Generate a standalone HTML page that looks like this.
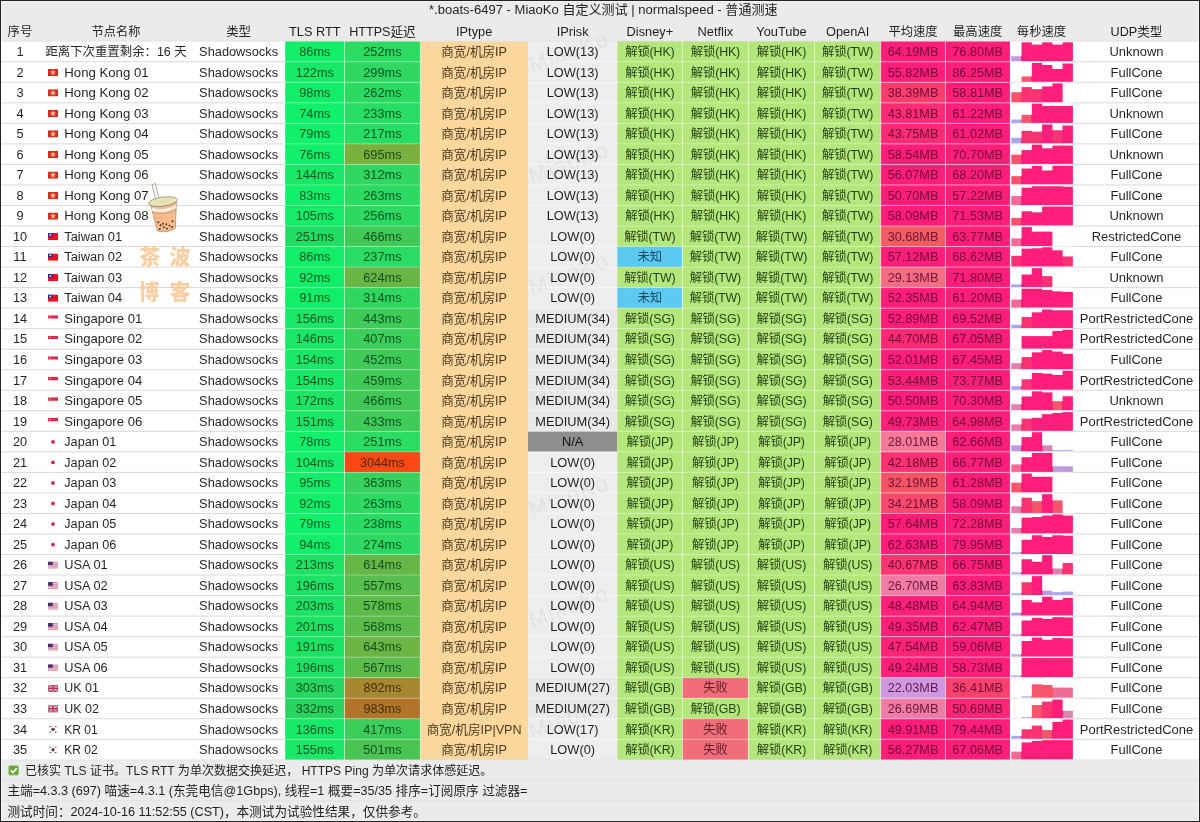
<!DOCTYPE html>
<html lang="zh-CN"><head><meta charset="utf-8"><title>MiaoKo</title>
<style>
html,body{margin:0;padding:0;background:#ebebeb}
body{width:1200px;height:822px;overflow:hidden;position:relative;font-family:"Liberation Sans","Noto Sans CJK SC",sans-serif;color:#1e1e1e;font-size:12.8px}
#t{position:absolute;left:0;top:0;width:1200px;height:822px;overflow:hidden;background:#ebebeb}
#bg{position:absolute;left:0;top:0;width:1200px;height:822px;display:block}
.r{position:absolute;left:0;width:1200px;height:20.53px;line-height:20.53px;white-space:nowrap}
.c{position:absolute;top:0;height:100%;text-align:center;overflow:visible;box-sizing:border-box}
.n{text-align:left}
.g{font-size:12.75px;color:#063c18}
.o{font-size:12.6px;color:#33230c}
.l,.b,.e{font-size:12.35px;letter-spacing:-.12px;color:#0b2604}
.b{color:#0a3448}
.e{color:#4a1218}
.p{font-size:12.65px;color:#5a062e}
.u{font-size:13px}
.f{position:absolute;left:8px;top:6.2px;width:10px;height:7.2px;display:block}
.ft{padding-left:7.4px;font-size:12.63px}
#x{position:absolute;left:0;top:0;width:1200px;height:822px;will-change:transform;filter:opacity(.87);color:#000}
.bd{position:absolute;pointer-events:none}

</style></head><body><div id="t">
<svg id="bg" width="1200" height="822" viewBox="0 0 1200 822"><rect width="1200" height="822" fill="#ebebeb"/><rect x="0" y="41.25" width="1200" height="718.55" fill="#fff"/><rect x="420.3" y="41.25" width="107.7" height="718.55" fill="#fad79d"/><rect x="285.2" y="41.25" width="59.3" height="20.53" fill="#13ee69"/><rect x="344.5" y="41.25" width="75.8" height="20.53" fill="#2bdb62"/><rect x="528" y="41.25" width="89.3" height="20.53" fill="#eeeeee"/><rect x="617.3" y="41.25" width="65.1" height="20.53" fill="#b5e67c"/><rect x="682.4" y="41.25" width="66" height="20.53" fill="#b5e67c"/><rect x="748.4" y="41.25" width="66.2" height="20.53" fill="#b5e67c"/><rect x="814.6" y="41.25" width="66.1" height="20.53" fill="#b5e67c"/><rect x="880.7" y="41.25" width="64.7" height="20.53" fill="#ff1f7a"/><rect x="945.4" y="41.25" width="64.5" height="20.53" fill="#ff1f7a"/><rect x="1011.3" y="56.3" width="10.27" height="5.13" fill="#bc9ae0"/><rect x="1021.57" y="42.34" width="10.27" height="19.09" fill="#ff1f7a"/><rect x="1031.83" y="44.6" width="10.27" height="16.83" fill="#ff1f7a"/><rect x="1042.1" y="42.34" width="10.27" height="19.09" fill="#ff1f7a"/><rect x="1052.37" y="44.6" width="10.27" height="16.83" fill="#ff1f7a"/><rect x="1062.63" y="42.34" width="10.27" height="19.09" fill="#ff1f7a"/><rect x="1020.97" y="56.3" width="1.2" height="5.13" fill="#ff1f7a"/><rect x="1031.23" y="44.6" width="1.2" height="16.83" fill="#ff1f7a"/><rect x="1041.5" y="44.6" width="1.2" height="16.83" fill="#ff1f7a"/><rect x="1051.77" y="44.6" width="1.2" height="16.83" fill="#ff1f7a"/><rect x="1062.03" y="44.6" width="1.2" height="16.83" fill="#ff1f7a"/><rect x="285.2" y="61.78" width="59.3" height="20.53" fill="#17ea68"/><rect x="344.5" y="61.78" width="75.8" height="20.53" fill="#30d761"/><rect x="528" y="61.78" width="89.3" height="20.53" fill="#eeeeee"/><rect x="617.3" y="61.78" width="65.1" height="20.53" fill="#b5e67c"/><rect x="682.4" y="61.78" width="66" height="20.53" fill="#b5e67c"/><rect x="748.4" y="61.78" width="66.2" height="20.53" fill="#b5e67c"/><rect x="814.6" y="61.78" width="66.1" height="20.53" fill="#b5e67c"/><rect x="880.7" y="61.78" width="64.7" height="20.53" fill="#ff1f7a"/><rect x="945.4" y="61.78" width="64.5" height="20.53" fill="#ff1f7a"/><rect x="1021.57" y="76.42" width="10.27" height="5.54" fill="#f6566b"/><rect x="1031.83" y="62.87" width="10.27" height="19.09" fill="#ff1f7a"/><rect x="1042.1" y="64.92" width="10.27" height="17.04" fill="#ff1f7a"/><rect x="1052.37" y="69.03" width="10.27" height="12.93" fill="#ff1f7a"/><rect x="1062.63" y="63.48" width="10.27" height="18.48" fill="#ff1f7a"/><rect x="1031.23" y="76.42" width="1.2" height="5.54" fill="#ff1f7a"/><rect x="1041.5" y="64.92" width="1.2" height="17.04" fill="#ff1f7a"/><rect x="1051.77" y="69.03" width="1.2" height="12.93" fill="#ff1f7a"/><rect x="1062.03" y="69.03" width="1.2" height="12.93" fill="#ff1f7a"/><svg x="48" y="68.78" width="10" height="7.2" viewBox="0 0 10 7.2"><rect width="10" height="7.2" rx=".6" fill="#d22e1a"/><ellipse cx="5" cy="2.2" rx=".8" ry="1.45" transform="rotate(0 5 3.6)" fill="#f3998a"/><ellipse cx="5" cy="2.2" rx=".8" ry="1.45" transform="rotate(72 5 3.6)" fill="#f3998a"/><ellipse cx="5" cy="2.2" rx=".8" ry="1.45" transform="rotate(144 5 3.6)" fill="#f3998a"/><ellipse cx="5" cy="2.2" rx=".8" ry="1.45" transform="rotate(216 5 3.6)" fill="#f3998a"/><ellipse cx="5" cy="2.2" rx=".8" ry="1.45" transform="rotate(288 5 3.6)" fill="#f3998a"/><circle cx="5" cy="3.6" r="1" fill="#fbd5cc"/></svg><rect x="285.2" y="82.31" width="59.3" height="20.53" fill="#14ed69"/><rect x="344.5" y="82.31" width="75.8" height="20.53" fill="#2cda62"/><rect x="528" y="82.31" width="89.3" height="20.53" fill="#eeeeee"/><rect x="617.3" y="82.31" width="65.1" height="20.53" fill="#b5e67c"/><rect x="682.4" y="82.31" width="66" height="20.53" fill="#b5e67c"/><rect x="748.4" y="82.31" width="66.2" height="20.53" fill="#b5e67c"/><rect x="814.6" y="82.31" width="66.1" height="20.53" fill="#b5e67c"/><rect x="880.7" y="82.31" width="64.7" height="20.53" fill="#f93e6e"/><rect x="945.4" y="82.31" width="64.5" height="20.53" fill="#ff1f7a"/><rect x="1011.3" y="92.23" width="10.27" height="10.27" fill="#f6566b"/><rect x="1021.57" y="87.09" width="10.27" height="15.4" fill="#fa3472"/><rect x="1031.83" y="89.15" width="10.27" height="13.34" fill="#fa3472"/><rect x="1042.1" y="86.48" width="10.27" height="16.01" fill="#ff1f7a"/><rect x="1052.37" y="83.4" width="10.27" height="19.09" fill="#ff1f7a"/><rect x="1020.97" y="92.23" width="1.2" height="10.27" fill="#fa3472"/><rect x="1031.23" y="89.15" width="1.2" height="13.34" fill="#fa3472"/><rect x="1041.5" y="89.15" width="1.2" height="13.34" fill="#ff1f7a"/><rect x="1051.77" y="86.48" width="1.2" height="16.01" fill="#ff1f7a"/><svg x="48" y="89.31" width="10" height="7.2" viewBox="0 0 10 7.2"><rect width="10" height="7.2" rx=".6" fill="#d22e1a"/><ellipse cx="5" cy="2.2" rx=".8" ry="1.45" transform="rotate(0 5 3.6)" fill="#f3998a"/><ellipse cx="5" cy="2.2" rx=".8" ry="1.45" transform="rotate(72 5 3.6)" fill="#f3998a"/><ellipse cx="5" cy="2.2" rx=".8" ry="1.45" transform="rotate(144 5 3.6)" fill="#f3998a"/><ellipse cx="5" cy="2.2" rx=".8" ry="1.45" transform="rotate(216 5 3.6)" fill="#f3998a"/><ellipse cx="5" cy="2.2" rx=".8" ry="1.45" transform="rotate(288 5 3.6)" fill="#f3998a"/><circle cx="5" cy="3.6" r="1" fill="#fbd5cc"/></svg><rect x="285.2" y="102.84" width="59.3" height="20.53" fill="#11f06a"/><rect x="344.5" y="102.84" width="75.8" height="20.53" fill="#29dc63"/><rect x="528" y="102.84" width="89.3" height="20.53" fill="#eeeeee"/><rect x="617.3" y="102.84" width="65.1" height="20.53" fill="#b5e67c"/><rect x="682.4" y="102.84" width="66" height="20.53" fill="#b5e67c"/><rect x="748.4" y="102.84" width="66.2" height="20.53" fill="#b5e67c"/><rect x="814.6" y="102.84" width="66.1" height="20.53" fill="#b5e67c"/><rect x="880.7" y="102.84" width="64.7" height="20.53" fill="#fc2d74"/><rect x="945.4" y="102.84" width="64.5" height="20.53" fill="#ff1f7a"/><rect x="1011.3" y="119.53" width="10.27" height="3.49" fill="#a9a6f0"/><rect x="1021.57" y="114.81" width="10.27" height="8.21" fill="#f6566b"/><rect x="1031.83" y="103.52" width="10.27" height="19.5" fill="#ff1f7a"/><rect x="1042.1" y="105.98" width="10.27" height="17.04" fill="#ff1f7a"/><rect x="1052.37" y="105.98" width="10.27" height="17.04" fill="#ff1f7a"/><rect x="1062.63" y="105.98" width="10.27" height="17.04" fill="#ff1f7a"/><rect x="1020.97" y="119.53" width="1.2" height="3.49" fill="#f6566b"/><rect x="1031.23" y="114.81" width="1.2" height="8.21" fill="#ff1f7a"/><rect x="1041.5" y="105.98" width="1.2" height="17.04" fill="#ff1f7a"/><rect x="1051.77" y="105.98" width="1.2" height="17.04" fill="#ff1f7a"/><rect x="1062.03" y="105.98" width="1.2" height="17.04" fill="#ff1f7a"/><svg x="48" y="109.84" width="10" height="7.2" viewBox="0 0 10 7.2"><rect width="10" height="7.2" rx=".6" fill="#d22e1a"/><ellipse cx="5" cy="2.2" rx=".8" ry="1.45" transform="rotate(0 5 3.6)" fill="#f3998a"/><ellipse cx="5" cy="2.2" rx=".8" ry="1.45" transform="rotate(72 5 3.6)" fill="#f3998a"/><ellipse cx="5" cy="2.2" rx=".8" ry="1.45" transform="rotate(144 5 3.6)" fill="#f3998a"/><ellipse cx="5" cy="2.2" rx=".8" ry="1.45" transform="rotate(216 5 3.6)" fill="#f3998a"/><ellipse cx="5" cy="2.2" rx=".8" ry="1.45" transform="rotate(288 5 3.6)" fill="#f3998a"/><circle cx="5" cy="3.6" r="1" fill="#fbd5cc"/></svg><rect x="285.2" y="123.37" width="59.3" height="20.53" fill="#12ef6a"/><rect x="344.5" y="123.37" width="75.8" height="20.53" fill="#28dd63"/><rect x="528" y="123.37" width="89.3" height="20.53" fill="#eeeeee"/><rect x="617.3" y="123.37" width="65.1" height="20.53" fill="#b5e67c"/><rect x="682.4" y="123.37" width="66" height="20.53" fill="#b5e67c"/><rect x="748.4" y="123.37" width="66.2" height="20.53" fill="#b5e67c"/><rect x="814.6" y="123.37" width="66.1" height="20.53" fill="#b5e67c"/><rect x="880.7" y="123.37" width="64.7" height="20.53" fill="#fc2d74"/><rect x="945.4" y="123.37" width="64.5" height="20.53" fill="#ff1f7a"/><rect x="1011.3" y="137.8" width="10.27" height="5.75" fill="#a9a6f0"/><rect x="1021.57" y="130.82" width="10.27" height="12.73" fill="#fa3472"/><rect x="1031.83" y="131.64" width="10.27" height="11.91" fill="#fa3472"/><rect x="1042.1" y="124.46" width="10.27" height="19.09" fill="#ff1f7a"/><rect x="1052.37" y="130.21" width="10.27" height="13.34" fill="#fa3472"/><rect x="1062.63" y="125.48" width="10.27" height="18.07" fill="#ff1f7a"/><rect x="1020.97" y="137.8" width="1.2" height="5.75" fill="#fa3472"/><rect x="1031.23" y="131.64" width="1.2" height="11.91" fill="#fa3472"/><rect x="1041.5" y="131.64" width="1.2" height="11.91" fill="#ff1f7a"/><rect x="1051.77" y="130.21" width="1.2" height="13.34" fill="#ff1f7a"/><rect x="1062.03" y="130.21" width="1.2" height="13.34" fill="#ff1f7a"/><svg x="48" y="130.37" width="10" height="7.2" viewBox="0 0 10 7.2"><rect width="10" height="7.2" rx=".6" fill="#d22e1a"/><ellipse cx="5" cy="2.2" rx=".8" ry="1.45" transform="rotate(0 5 3.6)" fill="#f3998a"/><ellipse cx="5" cy="2.2" rx=".8" ry="1.45" transform="rotate(72 5 3.6)" fill="#f3998a"/><ellipse cx="5" cy="2.2" rx=".8" ry="1.45" transform="rotate(144 5 3.6)" fill="#f3998a"/><ellipse cx="5" cy="2.2" rx=".8" ry="1.45" transform="rotate(216 5 3.6)" fill="#f3998a"/><ellipse cx="5" cy="2.2" rx=".8" ry="1.45" transform="rotate(288 5 3.6)" fill="#f3998a"/><circle cx="5" cy="3.6" r="1" fill="#fbd5cc"/></svg><rect x="285.2" y="143.9" width="59.3" height="20.53" fill="#12ef6a"/><rect x="344.5" y="143.9" width="75.8" height="20.53" fill="#7bb03e"/><rect x="528" y="143.9" width="89.3" height="20.53" fill="#eeeeee"/><rect x="617.3" y="143.9" width="65.1" height="20.53" fill="#b5e67c"/><rect x="682.4" y="143.9" width="66" height="20.53" fill="#b5e67c"/><rect x="748.4" y="143.9" width="66.2" height="20.53" fill="#b5e67c"/><rect x="814.6" y="143.9" width="66.1" height="20.53" fill="#b5e67c"/><rect x="880.7" y="143.9" width="64.7" height="20.53" fill="#ff1f7a"/><rect x="945.4" y="143.9" width="64.5" height="20.53" fill="#ff1f7a"/><rect x="1011.3" y="154.64" width="10.27" height="9.44" fill="#f6566b"/><rect x="1021.57" y="150.12" width="10.27" height="13.96" fill="#ff1f7a"/><rect x="1031.83" y="144.58" width="10.27" height="19.5" fill="#ff1f7a"/><rect x="1042.1" y="148.27" width="10.27" height="15.81" fill="#ff1f7a"/><rect x="1052.37" y="145.6" width="10.27" height="18.48" fill="#ff1f7a"/><rect x="1062.63" y="145.6" width="10.27" height="18.48" fill="#ff1f7a"/><rect x="1020.97" y="154.64" width="1.2" height="9.44" fill="#ff1f7a"/><rect x="1031.23" y="150.12" width="1.2" height="13.96" fill="#ff1f7a"/><rect x="1041.5" y="148.27" width="1.2" height="15.81" fill="#ff1f7a"/><rect x="1051.77" y="148.27" width="1.2" height="15.81" fill="#ff1f7a"/><rect x="1062.03" y="145.6" width="1.2" height="18.48" fill="#ff1f7a"/><svg x="48" y="150.9" width="10" height="7.2" viewBox="0 0 10 7.2"><rect width="10" height="7.2" rx=".6" fill="#d22e1a"/><ellipse cx="5" cy="2.2" rx=".8" ry="1.45" transform="rotate(0 5 3.6)" fill="#f3998a"/><ellipse cx="5" cy="2.2" rx=".8" ry="1.45" transform="rotate(72 5 3.6)" fill="#f3998a"/><ellipse cx="5" cy="2.2" rx=".8" ry="1.45" transform="rotate(144 5 3.6)" fill="#f3998a"/><ellipse cx="5" cy="2.2" rx=".8" ry="1.45" transform="rotate(216 5 3.6)" fill="#f3998a"/><ellipse cx="5" cy="2.2" rx=".8" ry="1.45" transform="rotate(288 5 3.6)" fill="#f3998a"/><circle cx="5" cy="3.6" r="1" fill="#fbd5cc"/></svg><rect x="285.2" y="164.43" width="59.3" height="20.53" fill="#19e867"/><rect x="344.5" y="164.43" width="75.8" height="20.53" fill="#31d760"/><rect x="528" y="164.43" width="89.3" height="20.53" fill="#eeeeee"/><rect x="617.3" y="164.43" width="65.1" height="20.53" fill="#b5e67c"/><rect x="682.4" y="164.43" width="66" height="20.53" fill="#b5e67c"/><rect x="748.4" y="164.43" width="66.2" height="20.53" fill="#b5e67c"/><rect x="814.6" y="164.43" width="66.1" height="20.53" fill="#b5e67c"/><rect x="880.7" y="164.43" width="64.7" height="20.53" fill="#ff1f7a"/><rect x="945.4" y="164.43" width="64.5" height="20.53" fill="#ff1f7a"/><rect x="1011.3" y="176.19" width="10.27" height="8.42" fill="#f6566b"/><rect x="1021.57" y="168.6" width="10.27" height="16.01" fill="#ff1f7a"/><rect x="1031.83" y="165.93" width="10.27" height="18.68" fill="#ff1f7a"/><rect x="1042.1" y="170.44" width="10.27" height="14.17" fill="#ff1f7a"/><rect x="1052.37" y="165.72" width="10.27" height="18.89" fill="#ff1f7a"/><rect x="1062.63" y="165.72" width="10.27" height="18.89" fill="#ff1f7a"/><rect x="1020.97" y="176.19" width="1.2" height="8.42" fill="#ff1f7a"/><rect x="1031.23" y="168.6" width="1.2" height="16.01" fill="#ff1f7a"/><rect x="1041.5" y="170.44" width="1.2" height="14.17" fill="#ff1f7a"/><rect x="1051.77" y="170.44" width="1.2" height="14.17" fill="#ff1f7a"/><rect x="1062.03" y="165.72" width="1.2" height="18.89" fill="#ff1f7a"/><svg x="48" y="171.43" width="10" height="7.2" viewBox="0 0 10 7.2"><rect width="10" height="7.2" rx=".6" fill="#d22e1a"/><ellipse cx="5" cy="2.2" rx=".8" ry="1.45" transform="rotate(0 5 3.6)" fill="#f3998a"/><ellipse cx="5" cy="2.2" rx=".8" ry="1.45" transform="rotate(72 5 3.6)" fill="#f3998a"/><ellipse cx="5" cy="2.2" rx=".8" ry="1.45" transform="rotate(144 5 3.6)" fill="#f3998a"/><ellipse cx="5" cy="2.2" rx=".8" ry="1.45" transform="rotate(216 5 3.6)" fill="#f3998a"/><ellipse cx="5" cy="2.2" rx=".8" ry="1.45" transform="rotate(288 5 3.6)" fill="#f3998a"/><circle cx="5" cy="3.6" r="1" fill="#fbd5cc"/></svg><rect x="285.2" y="184.96" width="59.3" height="20.53" fill="#12ef6a"/><rect x="344.5" y="184.96" width="75.8" height="20.53" fill="#2cda62"/><rect x="528" y="184.96" width="89.3" height="20.53" fill="#eeeeee"/><rect x="617.3" y="184.96" width="65.1" height="20.53" fill="#b5e67c"/><rect x="682.4" y="184.96" width="66" height="20.53" fill="#b5e67c"/><rect x="748.4" y="184.96" width="66.2" height="20.53" fill="#b5e67c"/><rect x="814.6" y="184.96" width="66.1" height="20.53" fill="#b5e67c"/><rect x="880.7" y="184.96" width="64.7" height="20.53" fill="#ff1f7a"/><rect x="945.4" y="184.96" width="64.5" height="20.53" fill="#ff1f7a"/><rect x="1011.3" y="196.11" width="10.27" height="9.03" fill="#ec6e94"/><rect x="1021.57" y="187.69" width="10.27" height="17.45" fill="#ff1f7a"/><rect x="1031.83" y="186.25" width="10.27" height="18.89" fill="#ff1f7a"/><rect x="1042.1" y="186.25" width="10.27" height="18.89" fill="#ff1f7a"/><rect x="1052.37" y="186.25" width="10.27" height="18.89" fill="#ff1f7a"/><rect x="1062.63" y="186.66" width="10.27" height="18.48" fill="#ff1f7a"/><rect x="1020.97" y="196.11" width="1.2" height="9.03" fill="#ff1f7a"/><rect x="1031.23" y="187.69" width="1.2" height="17.45" fill="#ff1f7a"/><rect x="1041.5" y="186.25" width="1.2" height="18.89" fill="#ff1f7a"/><rect x="1051.77" y="186.25" width="1.2" height="18.89" fill="#ff1f7a"/><rect x="1062.03" y="186.66" width="1.2" height="18.48" fill="#ff1f7a"/><svg x="48" y="191.96" width="10" height="7.2" viewBox="0 0 10 7.2"><rect width="10" height="7.2" rx=".6" fill="#d22e1a"/><ellipse cx="5" cy="2.2" rx=".8" ry="1.45" transform="rotate(0 5 3.6)" fill="#f3998a"/><ellipse cx="5" cy="2.2" rx=".8" ry="1.45" transform="rotate(72 5 3.6)" fill="#f3998a"/><ellipse cx="5" cy="2.2" rx=".8" ry="1.45" transform="rotate(144 5 3.6)" fill="#f3998a"/><ellipse cx="5" cy="2.2" rx=".8" ry="1.45" transform="rotate(216 5 3.6)" fill="#f3998a"/><ellipse cx="5" cy="2.2" rx=".8" ry="1.45" transform="rotate(288 5 3.6)" fill="#f3998a"/><circle cx="5" cy="3.6" r="1" fill="#fbd5cc"/></svg><rect x="285.2" y="205.49" width="59.3" height="20.53" fill="#15ec69"/><rect x="344.5" y="205.49" width="75.8" height="20.53" fill="#2cda62"/><rect x="528" y="205.49" width="89.3" height="20.53" fill="#eeeeee"/><rect x="617.3" y="205.49" width="65.1" height="20.53" fill="#b5e67c"/><rect x="682.4" y="205.49" width="66" height="20.53" fill="#b5e67c"/><rect x="748.4" y="205.49" width="66.2" height="20.53" fill="#b5e67c"/><rect x="814.6" y="205.49" width="66.1" height="20.53" fill="#b5e67c"/><rect x="880.7" y="205.49" width="64.7" height="20.53" fill="#ff1f7a"/><rect x="945.4" y="205.49" width="64.5" height="20.53" fill="#ff1f7a"/><rect x="1011.3" y="217.87" width="10.27" height="7.8" fill="#f6566b"/><rect x="1021.57" y="211.3" width="10.27" height="14.37" fill="#ff1f7a"/><rect x="1031.83" y="212.33" width="10.27" height="13.34" fill="#ff1f7a"/><rect x="1042.1" y="206.58" width="10.27" height="19.09" fill="#ff1f7a"/><rect x="1052.37" y="206.58" width="10.27" height="19.09" fill="#ff1f7a"/><rect x="1062.63" y="206.58" width="10.27" height="19.09" fill="#ff1f7a"/><rect x="1020.97" y="217.87" width="1.2" height="7.8" fill="#ff1f7a"/><rect x="1031.23" y="212.33" width="1.2" height="13.34" fill="#ff1f7a"/><rect x="1041.5" y="212.33" width="1.2" height="13.34" fill="#ff1f7a"/><rect x="1051.77" y="206.58" width="1.2" height="19.09" fill="#ff1f7a"/><rect x="1062.03" y="206.58" width="1.2" height="19.09" fill="#ff1f7a"/><svg x="48" y="212.49" width="10" height="7.2" viewBox="0 0 10 7.2"><rect width="10" height="7.2" rx=".6" fill="#d22e1a"/><ellipse cx="5" cy="2.2" rx=".8" ry="1.45" transform="rotate(0 5 3.6)" fill="#f3998a"/><ellipse cx="5" cy="2.2" rx=".8" ry="1.45" transform="rotate(72 5 3.6)" fill="#f3998a"/><ellipse cx="5" cy="2.2" rx=".8" ry="1.45" transform="rotate(144 5 3.6)" fill="#f3998a"/><ellipse cx="5" cy="2.2" rx=".8" ry="1.45" transform="rotate(216 5 3.6)" fill="#f3998a"/><ellipse cx="5" cy="2.2" rx=".8" ry="1.45" transform="rotate(288 5 3.6)" fill="#f3998a"/><circle cx="5" cy="3.6" r="1" fill="#fbd5cc"/></svg><rect x="285.2" y="226.02" width="59.3" height="20.53" fill="#22dd63"/><rect x="344.5" y="226.02" width="75.8" height="20.53" fill="#42c856"/><rect x="528" y="226.02" width="89.3" height="20.53" fill="#eeeeee"/><rect x="617.3" y="226.02" width="65.1" height="20.53" fill="#b5e67c"/><rect x="682.4" y="226.02" width="66" height="20.53" fill="#b5e67c"/><rect x="748.4" y="226.02" width="66.2" height="20.53" fill="#b5e67c"/><rect x="814.6" y="226.02" width="66.1" height="20.53" fill="#b5e67c"/><rect x="880.7" y="226.02" width="64.7" height="20.53" fill="#f35c62"/><rect x="945.4" y="226.02" width="64.5" height="20.53" fill="#ff1f7a"/><rect x="1011.3" y="238.4" width="10.27" height="7.8" fill="#ec6e94"/><rect x="1021.57" y="227.11" width="10.27" height="19.09" fill="#ff1f7a"/><rect x="1031.83" y="231.62" width="10.27" height="14.58" fill="#ff1f7a"/><rect x="1042.1" y="231.62" width="10.27" height="14.58" fill="#ff1f7a"/><rect x="1020.97" y="238.4" width="1.2" height="7.8" fill="#ff1f7a"/><rect x="1031.23" y="231.62" width="1.2" height="14.58" fill="#ff1f7a"/><rect x="1041.5" y="231.62" width="1.2" height="14.58" fill="#ff1f7a"/><svg x="48" y="233.02" width="10" height="7.2" viewBox="0 0 10 7.2"><rect width="10" height="7.2" rx=".6" fill="#ee1020"/><rect width="4.6" height="3.6" rx=".4" fill="#23238c"/><circle cx="2.3" cy="1.8" r="1" fill="#e8e8ff"/></svg><rect x="285.2" y="246.55" width="59.3" height="20.53" fill="#13ee69"/><rect x="344.5" y="246.55" width="75.8" height="20.53" fill="#2adc63"/><rect x="528" y="246.55" width="89.3" height="20.53" fill="#eeeeee"/><rect x="617.3" y="246.55" width="65.1" height="20.53" fill="#5cc9f0"/><rect x="682.4" y="246.55" width="66" height="20.53" fill="#b5e67c"/><rect x="748.4" y="246.55" width="66.2" height="20.53" fill="#b5e67c"/><rect x="814.6" y="246.55" width="66.1" height="20.53" fill="#b5e67c"/><rect x="880.7" y="246.55" width="64.7" height="20.53" fill="#ff1f7a"/><rect x="945.4" y="246.55" width="64.5" height="20.53" fill="#ff1f7a"/><rect x="1011.3" y="255.85" width="10.27" height="10.88" fill="#fa3472"/><rect x="1021.57" y="248.66" width="10.27" height="18.07" fill="#ff1f7a"/><rect x="1031.83" y="248.25" width="10.27" height="18.48" fill="#ff1f7a"/><rect x="1042.1" y="247.23" width="10.27" height="19.5" fill="#ff1f7a"/><rect x="1052.37" y="250.31" width="10.27" height="16.42" fill="#ff1f7a"/><rect x="1062.63" y="256.46" width="10.27" height="10.27" fill="#fa3472"/><rect x="1020.97" y="255.85" width="1.2" height="10.88" fill="#ff1f7a"/><rect x="1031.23" y="248.66" width="1.2" height="18.07" fill="#ff1f7a"/><rect x="1041.5" y="248.25" width="1.2" height="18.48" fill="#ff1f7a"/><rect x="1051.77" y="250.31" width="1.2" height="16.42" fill="#ff1f7a"/><rect x="1062.03" y="256.46" width="1.2" height="10.27" fill="#ff1f7a"/><svg x="48" y="253.55" width="10" height="7.2" viewBox="0 0 10 7.2"><rect width="10" height="7.2" rx=".6" fill="#ee1020"/><rect width="4.6" height="3.6" rx=".4" fill="#23238c"/><circle cx="2.3" cy="1.8" r="1" fill="#e8e8ff"/></svg><rect x="285.2" y="267.08" width="59.3" height="20.53" fill="#13ee69"/><rect x="344.5" y="267.08" width="75.8" height="20.53" fill="#69b646"/><rect x="528" y="267.08" width="89.3" height="20.53" fill="#eeeeee"/><rect x="617.3" y="267.08" width="65.1" height="20.53" fill="#b5e67c"/><rect x="682.4" y="267.08" width="66" height="20.53" fill="#b5e67c"/><rect x="748.4" y="267.08" width="66.2" height="20.53" fill="#b5e67c"/><rect x="814.6" y="267.08" width="66.1" height="20.53" fill="#b5e67c"/><rect x="880.7" y="267.08" width="64.7" height="20.53" fill="#f46d81"/><rect x="945.4" y="267.08" width="64.5" height="20.53" fill="#ff1f7a"/><rect x="1011.3" y="284.39" width="10.27" height="2.87" fill="#a9a6f0"/><rect x="1021.57" y="274.53" width="10.27" height="12.73" fill="#ff1f7a"/><rect x="1031.83" y="268.17" width="10.27" height="19.09" fill="#ff1f7a"/><rect x="1042.1" y="276.17" width="10.27" height="11.09" fill="#fa3472"/><rect x="1020.97" y="284.39" width="1.2" height="2.87" fill="#ff1f7a"/><rect x="1031.23" y="274.53" width="1.2" height="12.73" fill="#ff1f7a"/><rect x="1041.5" y="276.17" width="1.2" height="11.09" fill="#ff1f7a"/><svg x="48" y="274.08" width="10" height="7.2" viewBox="0 0 10 7.2"><rect width="10" height="7.2" rx=".6" fill="#ee1020"/><rect width="4.6" height="3.6" rx=".4" fill="#23238c"/><circle cx="2.3" cy="1.8" r="1" fill="#e8e8ff"/></svg><rect x="285.2" y="287.61" width="59.3" height="20.53" fill="#13ee69"/><rect x="344.5" y="287.61" width="75.8" height="20.53" fill="#31d660"/><rect x="528" y="287.61" width="89.3" height="20.53" fill="#eeeeee"/><rect x="617.3" y="287.61" width="65.1" height="20.53" fill="#5cc9f0"/><rect x="682.4" y="287.61" width="66" height="20.53" fill="#b5e67c"/><rect x="748.4" y="287.61" width="66.2" height="20.53" fill="#b5e67c"/><rect x="814.6" y="287.61" width="66.1" height="20.53" fill="#b5e67c"/><rect x="880.7" y="287.61" width="64.7" height="20.53" fill="#ff1f7a"/><rect x="945.4" y="287.61" width="64.5" height="20.53" fill="#ff1f7a"/><rect x="1011.3" y="299.58" width="10.27" height="8.21" fill="#ec6e94"/><rect x="1021.57" y="288.7" width="10.27" height="19.09" fill="#ff1f7a"/><rect x="1031.83" y="288.7" width="10.27" height="19.09" fill="#ff1f7a"/><rect x="1042.1" y="289.93" width="10.27" height="17.86" fill="#ff1f7a"/><rect x="1052.37" y="291.37" width="10.27" height="16.42" fill="#ff1f7a"/><rect x="1062.63" y="291.98" width="10.27" height="15.81" fill="#ff1f7a"/><rect x="1020.97" y="299.58" width="1.2" height="8.21" fill="#ff1f7a"/><rect x="1031.23" y="288.7" width="1.2" height="19.09" fill="#ff1f7a"/><rect x="1041.5" y="289.93" width="1.2" height="17.86" fill="#ff1f7a"/><rect x="1051.77" y="291.37" width="1.2" height="16.42" fill="#ff1f7a"/><rect x="1062.03" y="291.98" width="1.2" height="15.81" fill="#ff1f7a"/><svg x="48" y="294.61" width="10" height="7.2" viewBox="0 0 10 7.2"><rect width="10" height="7.2" rx=".6" fill="#ee1020"/><rect width="4.6" height="3.6" rx=".4" fill="#23238c"/><circle cx="2.3" cy="1.8" r="1" fill="#e8e8ff"/></svg><rect x="285.2" y="308.14" width="59.3" height="20.53" fill="#1ae667"/><rect x="344.5" y="308.14" width="75.8" height="20.53" fill="#3fcb58"/><rect x="528" y="308.14" width="89.3" height="20.53" fill="#e9e9e9"/><rect x="617.3" y="308.14" width="65.1" height="20.53" fill="#b5e67c"/><rect x="682.4" y="308.14" width="66" height="20.53" fill="#b5e67c"/><rect x="748.4" y="308.14" width="66.2" height="20.53" fill="#b5e67c"/><rect x="814.6" y="308.14" width="66.1" height="20.53" fill="#b5e67c"/><rect x="880.7" y="308.14" width="64.7" height="20.53" fill="#ff1f7a"/><rect x="945.4" y="308.14" width="64.5" height="20.53" fill="#ff1f7a"/><rect x="1011.3" y="324.83" width="10.27" height="3.49" fill="#a9a6f0"/><rect x="1021.57" y="317.03" width="10.27" height="11.29" fill="#fa3472"/><rect x="1031.83" y="312.31" width="10.27" height="16.01" fill="#ff1f7a"/><rect x="1042.1" y="309.43" width="10.27" height="18.89" fill="#ff1f7a"/><rect x="1052.37" y="310.25" width="10.27" height="18.07" fill="#ff1f7a"/><rect x="1062.63" y="310.25" width="10.27" height="18.07" fill="#ff1f7a"/><rect x="1020.97" y="324.83" width="1.2" height="3.49" fill="#fa3472"/><rect x="1031.23" y="317.03" width="1.2" height="11.29" fill="#ff1f7a"/><rect x="1041.5" y="312.31" width="1.2" height="16.01" fill="#ff1f7a"/><rect x="1051.77" y="310.25" width="1.2" height="18.07" fill="#ff1f7a"/><rect x="1062.03" y="310.25" width="1.2" height="18.07" fill="#ff1f7a"/><svg x="48" y="315.14" width="10" height="7.2" viewBox="0 0 10 7.2"><rect width="10" height="7.2" rx=".6" fill="#fff" stroke="#eee" stroke-width=".4"/><path d="M0 .6A.6 .6 0 0 1 .6 0H9.4A.6 .6 0 0 1 10 .6V3.4H0Z" fill="#dc2848"/><circle cx="2" cy="1.7" r=".7" fill="#f7c0cc"/></svg><rect x="285.2" y="328.67" width="59.3" height="20.53" fill="#1ae767"/><rect x="344.5" y="328.67" width="75.8" height="20.53" fill="#3bce5a"/><rect x="528" y="328.67" width="89.3" height="20.53" fill="#e9e9e9"/><rect x="617.3" y="328.67" width="65.1" height="20.53" fill="#b5e67c"/><rect x="682.4" y="328.67" width="66" height="20.53" fill="#b5e67c"/><rect x="748.4" y="328.67" width="66.2" height="20.53" fill="#b5e67c"/><rect x="814.6" y="328.67" width="66.1" height="20.53" fill="#b5e67c"/><rect x="880.7" y="328.67" width="64.7" height="20.53" fill="#fc2a75"/><rect x="945.4" y="328.67" width="64.5" height="20.53" fill="#ff1f7a"/><rect x="1021.57" y="336.12" width="10.27" height="12.73" fill="#ff1f7a"/><rect x="1031.83" y="336.12" width="10.27" height="12.73" fill="#ff1f7a"/><rect x="1042.1" y="336.12" width="10.27" height="12.73" fill="#ff1f7a"/><rect x="1052.37" y="330.99" width="10.27" height="17.86" fill="#ff1f7a"/><rect x="1062.63" y="329.76" width="10.27" height="19.09" fill="#ff1f7a"/><rect x="1031.23" y="336.12" width="1.2" height="12.73" fill="#ff1f7a"/><rect x="1041.5" y="336.12" width="1.2" height="12.73" fill="#ff1f7a"/><rect x="1051.77" y="336.12" width="1.2" height="12.73" fill="#ff1f7a"/><rect x="1062.03" y="330.99" width="1.2" height="17.86" fill="#ff1f7a"/><svg x="48" y="335.67" width="10" height="7.2" viewBox="0 0 10 7.2"><rect width="10" height="7.2" rx=".6" fill="#fff" stroke="#eee" stroke-width=".4"/><path d="M0 .6A.6 .6 0 0 1 .6 0H9.4A.6 .6 0 0 1 10 .6V3.4H0Z" fill="#dc2848"/><circle cx="2" cy="1.7" r=".7" fill="#f7c0cc"/></svg><rect x="285.2" y="349.2" width="59.3" height="20.53" fill="#1ae767"/><rect x="344.5" y="349.2" width="75.8" height="20.53" fill="#40ca57"/><rect x="528" y="349.2" width="89.3" height="20.53" fill="#e9e9e9"/><rect x="617.3" y="349.2" width="65.1" height="20.53" fill="#b5e67c"/><rect x="682.4" y="349.2" width="66" height="20.53" fill="#b5e67c"/><rect x="748.4" y="349.2" width="66.2" height="20.53" fill="#b5e67c"/><rect x="814.6" y="349.2" width="66.1" height="20.53" fill="#b5e67c"/><rect x="880.7" y="349.2" width="64.7" height="20.53" fill="#ff1f7a"/><rect x="945.4" y="349.2" width="64.5" height="20.53" fill="#ff1f7a"/><rect x="1011.3" y="363.22" width="10.27" height="6.16" fill="#dc84b0"/><rect x="1021.57" y="357.06" width="10.27" height="12.32" fill="#fa3472"/><rect x="1031.83" y="352.34" width="10.27" height="17.04" fill="#ff1f7a"/><rect x="1042.1" y="350.08" width="10.27" height="19.3" fill="#ff1f7a"/><rect x="1052.37" y="351.52" width="10.27" height="17.86" fill="#ff1f7a"/><rect x="1062.63" y="353.78" width="10.27" height="15.6" fill="#ff1f7a"/><rect x="1020.97" y="363.22" width="1.2" height="6.16" fill="#fa3472"/><rect x="1031.23" y="357.06" width="1.2" height="12.32" fill="#ff1f7a"/><rect x="1041.5" y="352.34" width="1.2" height="17.04" fill="#ff1f7a"/><rect x="1051.77" y="351.52" width="1.2" height="17.86" fill="#ff1f7a"/><rect x="1062.03" y="353.78" width="1.2" height="15.6" fill="#ff1f7a"/><svg x="48" y="356.2" width="10" height="7.2" viewBox="0 0 10 7.2"><rect width="10" height="7.2" rx=".6" fill="#fff" stroke="#eee" stroke-width=".4"/><path d="M0 .6A.6 .6 0 0 1 .6 0H9.4A.6 .6 0 0 1 10 .6V3.4H0Z" fill="#dc2848"/><circle cx="2" cy="1.7" r=".7" fill="#f7c0cc"/></svg><rect x="285.2" y="369.73" width="59.3" height="20.53" fill="#1ae767"/><rect x="344.5" y="369.73" width="75.8" height="20.53" fill="#41c957"/><rect x="528" y="369.73" width="89.3" height="20.53" fill="#e9e9e9"/><rect x="617.3" y="369.73" width="65.1" height="20.53" fill="#b5e67c"/><rect x="682.4" y="369.73" width="66" height="20.53" fill="#b5e67c"/><rect x="748.4" y="369.73" width="66.2" height="20.53" fill="#b5e67c"/><rect x="814.6" y="369.73" width="66.1" height="20.53" fill="#b5e67c"/><rect x="880.7" y="369.73" width="64.7" height="20.53" fill="#ff1f7a"/><rect x="945.4" y="369.73" width="64.5" height="20.53" fill="#ff1f7a"/><rect x="1011.3" y="386.21" width="10.27" height="3.7" fill="#a9a6f0"/><rect x="1021.57" y="379.23" width="10.27" height="10.68" fill="#fa3472"/><rect x="1031.83" y="372.87" width="10.27" height="17.04" fill="#ff1f7a"/><rect x="1042.1" y="373.69" width="10.27" height="16.22" fill="#ff1f7a"/><rect x="1052.37" y="374.92" width="10.27" height="14.99" fill="#ff1f7a"/><rect x="1062.63" y="370.61" width="10.27" height="19.3" fill="#ff1f7a"/><rect x="1020.97" y="386.21" width="1.2" height="3.7" fill="#fa3472"/><rect x="1031.23" y="379.23" width="1.2" height="10.68" fill="#ff1f7a"/><rect x="1041.5" y="373.69" width="1.2" height="16.22" fill="#ff1f7a"/><rect x="1051.77" y="374.92" width="1.2" height="14.99" fill="#ff1f7a"/><rect x="1062.03" y="374.92" width="1.2" height="14.99" fill="#ff1f7a"/><svg x="48" y="376.73" width="10" height="7.2" viewBox="0 0 10 7.2"><rect width="10" height="7.2" rx=".6" fill="#fff" stroke="#eee" stroke-width=".4"/><path d="M0 .6A.6 .6 0 0 1 .6 0H9.4A.6 .6 0 0 1 10 .6V3.4H0Z" fill="#dc2848"/><circle cx="2" cy="1.7" r=".7" fill="#f7c0cc"/></svg><rect x="285.2" y="390.26" width="59.3" height="20.53" fill="#1ce566"/><rect x="344.5" y="390.26" width="75.8" height="20.53" fill="#42c856"/><rect x="528" y="390.26" width="89.3" height="20.53" fill="#e9e9e9"/><rect x="617.3" y="390.26" width="65.1" height="20.53" fill="#b5e67c"/><rect x="682.4" y="390.26" width="66" height="20.53" fill="#b5e67c"/><rect x="748.4" y="390.26" width="66.2" height="20.53" fill="#b5e67c"/><rect x="814.6" y="390.26" width="66.1" height="20.53" fill="#b5e67c"/><rect x="880.7" y="390.26" width="64.7" height="20.53" fill="#ff1f7a"/><rect x="945.4" y="390.26" width="64.5" height="20.53" fill="#ff1f7a"/><rect x="1011.3" y="404.28" width="10.27" height="6.16" fill="#dc84b0"/><rect x="1021.57" y="396.48" width="10.27" height="13.96" fill="#ff1f7a"/><rect x="1031.83" y="391.35" width="10.27" height="19.09" fill="#ff1f7a"/><rect x="1042.1" y="392.37" width="10.27" height="18.07" fill="#ff1f7a"/><rect x="1052.37" y="401.2" width="10.27" height="9.24" fill="#f6566b"/><rect x="1062.63" y="396.27" width="10.27" height="14.17" fill="#ff1f7a"/><rect x="1020.97" y="404.28" width="1.2" height="6.16" fill="#ff1f7a"/><rect x="1031.23" y="396.48" width="1.2" height="13.96" fill="#ff1f7a"/><rect x="1041.5" y="392.37" width="1.2" height="18.07" fill="#ff1f7a"/><rect x="1051.77" y="401.2" width="1.2" height="9.24" fill="#ff1f7a"/><rect x="1062.03" y="401.2" width="1.2" height="9.24" fill="#ff1f7a"/><svg x="48" y="397.26" width="10" height="7.2" viewBox="0 0 10 7.2"><rect width="10" height="7.2" rx=".6" fill="#fff" stroke="#eee" stroke-width=".4"/><path d="M0 .6A.6 .6 0 0 1 .6 0H9.4A.6 .6 0 0 1 10 .6V3.4H0Z" fill="#dc2848"/><circle cx="2" cy="1.7" r=".7" fill="#f7c0cc"/></svg><rect x="285.2" y="410.79" width="59.3" height="20.53" fill="#1ae767"/><rect x="344.5" y="410.79" width="75.8" height="20.53" fill="#3ecb58"/><rect x="528" y="410.79" width="89.3" height="20.53" fill="#e9e9e9"/><rect x="617.3" y="410.79" width="65.1" height="20.53" fill="#b5e67c"/><rect x="682.4" y="410.79" width="66" height="20.53" fill="#b5e67c"/><rect x="748.4" y="410.79" width="66.2" height="20.53" fill="#b5e67c"/><rect x="814.6" y="410.79" width="66.1" height="20.53" fill="#b5e67c"/><rect x="880.7" y="410.79" width="64.7" height="20.53" fill="#ff207a"/><rect x="945.4" y="410.79" width="64.5" height="20.53" fill="#ff1f7a"/><rect x="1011.3" y="424.4" width="10.27" height="6.57" fill="#dc84b0"/><rect x="1021.57" y="418.65" width="10.27" height="12.32" fill="#fa3472"/><rect x="1031.83" y="417.83" width="10.27" height="13.14" fill="#ff1f7a"/><rect x="1042.1" y="414.14" width="10.27" height="16.83" fill="#ff1f7a"/><rect x="1052.37" y="412.9" width="10.27" height="18.07" fill="#ff1f7a"/><rect x="1062.63" y="412.08" width="10.27" height="18.89" fill="#ff1f7a"/><rect x="1020.97" y="424.4" width="1.2" height="6.57" fill="#fa3472"/><rect x="1031.23" y="418.65" width="1.2" height="12.32" fill="#ff1f7a"/><rect x="1041.5" y="417.83" width="1.2" height="13.14" fill="#ff1f7a"/><rect x="1051.77" y="414.14" width="1.2" height="16.83" fill="#ff1f7a"/><rect x="1062.03" y="412.9" width="1.2" height="18.07" fill="#ff1f7a"/><svg x="48" y="417.79" width="10" height="7.2" viewBox="0 0 10 7.2"><rect width="10" height="7.2" rx=".6" fill="#fff" stroke="#eee" stroke-width=".4"/><path d="M0 .6A.6 .6 0 0 1 .6 0H9.4A.6 .6 0 0 1 10 .6V3.4H0Z" fill="#dc2848"/><circle cx="2" cy="1.7" r=".7" fill="#f7c0cc"/></svg><rect x="285.2" y="431.32" width="59.3" height="20.53" fill="#12ef6a"/><rect x="344.5" y="431.32" width="75.8" height="20.53" fill="#2bdb62"/><rect x="528" y="431.32" width="89.3" height="20.53" fill="#8e8e8e"/><rect x="617.3" y="431.32" width="65.1" height="20.53" fill="#b5e67c"/><rect x="682.4" y="431.32" width="66" height="20.53" fill="#b5e67c"/><rect x="748.4" y="431.32" width="66.2" height="20.53" fill="#b5e67c"/><rect x="814.6" y="431.32" width="66.1" height="20.53" fill="#b5e67c"/><rect x="880.7" y="431.32" width="64.7" height="20.53" fill="#f47a98"/><rect x="945.4" y="431.32" width="64.5" height="20.53" fill="#ff1f7a"/><rect x="1011.3" y="445.34" width="10.27" height="6.16" fill="#bc9ae0"/><rect x="1021.57" y="437.13" width="10.27" height="14.37" fill="#ff1f7a"/><rect x="1031.83" y="432.2" width="10.27" height="19.3" fill="#ff1f7a"/><rect x="1042.1" y="445.34" width="10.27" height="6.16" fill="#dc84b0"/><rect x="1052.37" y="449.86" width="10.27" height="1.64" fill="#b2bdea"/><rect x="1062.63" y="449.86" width="10.27" height="1.64" fill="#b2bdea"/><rect x="1020.97" y="445.34" width="1.2" height="6.16" fill="#ff1f7a"/><rect x="1031.23" y="437.13" width="1.2" height="14.37" fill="#ff1f7a"/><rect x="1041.5" y="445.34" width="1.2" height="6.16" fill="#ff1f7a"/><rect x="1051.77" y="449.86" width="1.2" height="1.64" fill="#dc84b0"/><rect x="1062.03" y="449.86" width="1.2" height="1.64" fill="#b2bdea"/><svg x="48" y="438.32" width="10" height="7.2" viewBox="0 0 10 7.2"><rect width="10" height="7.2" rx=".6" fill="#fff" stroke="#f0f0f0" stroke-width=".4"/><circle cx="5" cy="3.6" r="1.9" fill="#c8285a"/></svg><rect x="285.2" y="451.85" width="59.3" height="20.53" fill="#15ec69"/><rect x="344.5" y="451.85" width="75.8" height="20.53" fill="#fc4814"/><rect x="528" y="451.85" width="89.3" height="20.53" fill="#eeeeee"/><rect x="617.3" y="451.85" width="65.1" height="20.53" fill="#b5e67c"/><rect x="682.4" y="451.85" width="66" height="20.53" fill="#b5e67c"/><rect x="748.4" y="451.85" width="66.2" height="20.53" fill="#b5e67c"/><rect x="814.6" y="451.85" width="66.1" height="20.53" fill="#b5e67c"/><rect x="880.7" y="451.85" width="64.7" height="20.53" fill="#fb3272"/><rect x="945.4" y="451.85" width="64.5" height="20.53" fill="#ff1f7a"/><rect x="1011.3" y="464.43" width="10.27" height="7.6" fill="#ec6e94"/><rect x="1021.57" y="457.25" width="10.27" height="14.78" fill="#ff1f7a"/><rect x="1031.83" y="452.94" width="10.27" height="19.09" fill="#ff1f7a"/><rect x="1042.1" y="452.94" width="10.27" height="19.09" fill="#ff1f7a"/><rect x="1052.37" y="466.28" width="10.27" height="5.75" fill="#bc9ae0"/><rect x="1062.63" y="466.28" width="10.27" height="5.75" fill="#bc9ae0"/><rect x="1020.97" y="464.43" width="1.2" height="7.6" fill="#ff1f7a"/><rect x="1031.23" y="457.25" width="1.2" height="14.78" fill="#ff1f7a"/><rect x="1041.5" y="452.94" width="1.2" height="19.09" fill="#ff1f7a"/><rect x="1051.77" y="466.28" width="1.2" height="5.75" fill="#ff1f7a"/><rect x="1062.03" y="466.28" width="1.2" height="5.75" fill="#bc9ae0"/><svg x="48" y="458.85" width="10" height="7.2" viewBox="0 0 10 7.2"><rect width="10" height="7.2" rx=".6" fill="#fff" stroke="#f0f0f0" stroke-width=".4"/><circle cx="5" cy="3.6" r="1.9" fill="#c8285a"/></svg><rect x="285.2" y="472.38" width="59.3" height="20.53" fill="#14ed69"/><rect x="344.5" y="472.38" width="75.8" height="20.53" fill="#37d25d"/><rect x="528" y="472.38" width="89.3" height="20.53" fill="#eeeeee"/><rect x="617.3" y="472.38" width="65.1" height="20.53" fill="#b5e67c"/><rect x="682.4" y="472.38" width="66" height="20.53" fill="#b5e67c"/><rect x="748.4" y="472.38" width="66.2" height="20.53" fill="#b5e67c"/><rect x="814.6" y="472.38" width="66.1" height="20.53" fill="#b5e67c"/><rect x="880.7" y="472.38" width="64.7" height="20.53" fill="#f55466"/><rect x="945.4" y="472.38" width="64.5" height="20.53" fill="#ff1f7a"/><rect x="1011.3" y="482.71" width="10.27" height="9.85" fill="#f6566b"/><rect x="1021.57" y="473.47" width="10.27" height="19.09" fill="#ff1f7a"/><rect x="1031.83" y="476.75" width="10.27" height="15.81" fill="#ff1f7a"/><rect x="1042.1" y="476.75" width="10.27" height="15.81" fill="#ff1f7a"/><rect x="1020.97" y="482.71" width="1.2" height="9.85" fill="#ff1f7a"/><rect x="1031.23" y="476.75" width="1.2" height="15.81" fill="#ff1f7a"/><rect x="1041.5" y="476.75" width="1.2" height="15.81" fill="#ff1f7a"/><svg x="48" y="479.38" width="10" height="7.2" viewBox="0 0 10 7.2"><rect width="10" height="7.2" rx=".6" fill="#fff" stroke="#f0f0f0" stroke-width=".4"/><circle cx="5" cy="3.6" r="1.9" fill="#c8285a"/></svg><rect x="285.2" y="492.91" width="59.3" height="20.53" fill="#13ee69"/><rect x="344.5" y="492.91" width="75.8" height="20.53" fill="#2cda62"/><rect x="528" y="492.91" width="89.3" height="20.53" fill="#eeeeee"/><rect x="617.3" y="492.91" width="65.1" height="20.53" fill="#b5e67c"/><rect x="682.4" y="492.91" width="66" height="20.53" fill="#b5e67c"/><rect x="748.4" y="492.91" width="66.2" height="20.53" fill="#b5e67c"/><rect x="814.6" y="492.91" width="66.1" height="20.53" fill="#b5e67c"/><rect x="880.7" y="492.91" width="64.7" height="20.53" fill="#f74a6c"/><rect x="945.4" y="492.91" width="64.5" height="20.53" fill="#ff1f7a"/><rect x="1011.3" y="506.32" width="10.27" height="6.77" fill="#dc84b0"/><rect x="1021.57" y="497.69" width="10.27" height="15.4" fill="#fa3472"/><rect x="1031.83" y="501.18" width="10.27" height="11.91" fill="#f6566b"/><rect x="1042.1" y="494.2" width="10.27" height="18.89" fill="#ff1f7a"/><rect x="1052.37" y="500.36" width="10.27" height="12.73" fill="#f6566b"/><rect x="1020.97" y="506.32" width="1.2" height="6.77" fill="#fa3472"/><rect x="1031.23" y="501.18" width="1.2" height="11.91" fill="#fa3472"/><rect x="1041.5" y="501.18" width="1.2" height="11.91" fill="#ff1f7a"/><rect x="1051.77" y="500.36" width="1.2" height="12.73" fill="#ff1f7a"/><svg x="48" y="499.91" width="10" height="7.2" viewBox="0 0 10 7.2"><rect width="10" height="7.2" rx=".6" fill="#fff" stroke="#f0f0f0" stroke-width=".4"/><circle cx="5" cy="3.6" r="1.9" fill="#c8285a"/></svg><rect x="285.2" y="513.44" width="59.3" height="20.53" fill="#12ef6a"/><rect x="344.5" y="513.44" width="75.8" height="20.53" fill="#2adb63"/><rect x="528" y="513.44" width="89.3" height="20.53" fill="#eeeeee"/><rect x="617.3" y="513.44" width="65.1" height="20.53" fill="#b5e67c"/><rect x="682.4" y="513.44" width="66" height="20.53" fill="#b5e67c"/><rect x="748.4" y="513.44" width="66.2" height="20.53" fill="#b5e67c"/><rect x="814.6" y="513.44" width="66.1" height="20.53" fill="#b5e67c"/><rect x="880.7" y="513.44" width="64.7" height="20.53" fill="#ff1f7a"/><rect x="945.4" y="513.44" width="64.5" height="20.53" fill="#ff1f7a"/><rect x="1011.3" y="528.08" width="10.27" height="5.54" fill="#dc84b0"/><rect x="1021.57" y="517.61" width="10.27" height="16.01" fill="#ff1f7a"/><rect x="1031.83" y="516.99" width="10.27" height="16.63" fill="#ff1f7a"/><rect x="1042.1" y="515.55" width="10.27" height="18.07" fill="#ff1f7a"/><rect x="1052.37" y="514.32" width="10.27" height="19.3" fill="#ff1f7a"/><rect x="1062.63" y="515.55" width="10.27" height="18.07" fill="#ff1f7a"/><rect x="1020.97" y="528.08" width="1.2" height="5.54" fill="#ff1f7a"/><rect x="1031.23" y="517.61" width="1.2" height="16.01" fill="#ff1f7a"/><rect x="1041.5" y="516.99" width="1.2" height="16.63" fill="#ff1f7a"/><rect x="1051.77" y="515.55" width="1.2" height="18.07" fill="#ff1f7a"/><rect x="1062.03" y="515.55" width="1.2" height="18.07" fill="#ff1f7a"/><svg x="48" y="520.44" width="10" height="7.2" viewBox="0 0 10 7.2"><rect width="10" height="7.2" rx=".6" fill="#fff" stroke="#f0f0f0" stroke-width=".4"/><circle cx="5" cy="3.6" r="1.9" fill="#c8285a"/></svg><rect x="285.2" y="533.97" width="59.3" height="20.53" fill="#14ed69"/><rect x="344.5" y="533.97" width="75.8" height="20.53" fill="#2dd962"/><rect x="528" y="533.97" width="89.3" height="20.53" fill="#eeeeee"/><rect x="617.3" y="533.97" width="65.1" height="20.53" fill="#b5e67c"/><rect x="682.4" y="533.97" width="66" height="20.53" fill="#b5e67c"/><rect x="748.4" y="533.97" width="66.2" height="20.53" fill="#b5e67c"/><rect x="814.6" y="533.97" width="66.1" height="20.53" fill="#b5e67c"/><rect x="880.7" y="533.97" width="64.7" height="20.53" fill="#ff1f7a"/><rect x="945.4" y="533.97" width="64.5" height="20.53" fill="#ff1f7a"/><rect x="1011.3" y="552.1" width="10.27" height="2.05" fill="#b2bdea"/><rect x="1021.57" y="539.78" width="10.27" height="14.37" fill="#ff1f7a"/><rect x="1031.83" y="535.26" width="10.27" height="18.89" fill="#ff1f7a"/><rect x="1042.1" y="536.9" width="10.27" height="17.25" fill="#ff1f7a"/><rect x="1052.37" y="535.26" width="10.27" height="18.89" fill="#ff1f7a"/><rect x="1062.63" y="535.67" width="10.27" height="18.48" fill="#ff1f7a"/><rect x="1020.97" y="552.1" width="1.2" height="2.05" fill="#ff1f7a"/><rect x="1031.23" y="539.78" width="1.2" height="14.37" fill="#ff1f7a"/><rect x="1041.5" y="536.9" width="1.2" height="17.25" fill="#ff1f7a"/><rect x="1051.77" y="536.9" width="1.2" height="17.25" fill="#ff1f7a"/><rect x="1062.03" y="535.67" width="1.2" height="18.48" fill="#ff1f7a"/><svg x="48" y="540.97" width="10" height="7.2" viewBox="0 0 10 7.2"><rect width="10" height="7.2" rx=".6" fill="#fff" stroke="#f0f0f0" stroke-width=".4"/><circle cx="5" cy="3.6" r="1.9" fill="#c8285a"/></svg><rect x="285.2" y="554.5" width="59.3" height="20.53" fill="#1fe164"/><rect x="344.5" y="554.5" width="75.8" height="20.53" fill="#66b747"/><rect x="528" y="554.5" width="89.3" height="20.53" fill="#eeeeee"/><rect x="617.3" y="554.5" width="65.1" height="20.53" fill="#b5e67c"/><rect x="682.4" y="554.5" width="66" height="20.53" fill="#b5e67c"/><rect x="748.4" y="554.5" width="66.2" height="20.53" fill="#b5e67c"/><rect x="814.6" y="554.5" width="66.1" height="20.53" fill="#b5e67c"/><rect x="880.7" y="554.5" width="64.7" height="20.53" fill="#fa3770"/><rect x="945.4" y="554.5" width="64.5" height="20.53" fill="#ff1f7a"/><rect x="1011.3" y="572.22" width="10.27" height="2.46" fill="#b2bdea"/><rect x="1021.57" y="559.28" width="10.27" height="15.4" fill="#ff1f7a"/><rect x="1031.83" y="561.75" width="10.27" height="12.93" fill="#ff1f7a"/><rect x="1042.1" y="555.18" width="10.27" height="19.5" fill="#ff1f7a"/><rect x="1052.37" y="568.52" width="10.27" height="6.16" fill="#dc84b0"/><rect x="1062.63" y="562.98" width="10.27" height="11.7" fill="#fa3472"/><rect x="1020.97" y="572.22" width="1.2" height="2.46" fill="#ff1f7a"/><rect x="1031.23" y="561.75" width="1.2" height="12.93" fill="#ff1f7a"/><rect x="1041.5" y="561.75" width="1.2" height="12.93" fill="#ff1f7a"/><rect x="1051.77" y="568.52" width="1.2" height="6.16" fill="#ff1f7a"/><rect x="1062.03" y="568.52" width="1.2" height="6.16" fill="#fa3472"/><svg x="48" y="561.5" width="10" height="7.2" viewBox="0 0 10 7.2"><rect width="10" height="7.2" rx=".6" fill="#dc93aa"/><rect y="1.1" width="10" height=".9" fill="#eec0cc"/><rect y="3.2" width="10" height=".9" fill="#eec0cc"/><rect y="5.2" width="10" height=".9" fill="#eec0cc"/><rect width="4.8" height="3.6" rx=".4" fill="#46306e"/></svg><rect x="285.2" y="575.03" width="59.3" height="20.53" fill="#1ee265"/><rect x="344.5" y="575.03" width="75.8" height="20.53" fill="#58be4d"/><rect x="528" y="575.03" width="89.3" height="20.53" fill="#eeeeee"/><rect x="617.3" y="575.03" width="65.1" height="20.53" fill="#b5e67c"/><rect x="682.4" y="575.03" width="66" height="20.53" fill="#b5e67c"/><rect x="748.4" y="575.03" width="66.2" height="20.53" fill="#b5e67c"/><rect x="814.6" y="575.03" width="66.1" height="20.53" fill="#b5e67c"/><rect x="880.7" y="575.03" width="64.7" height="20.53" fill="#ee7ca4"/><rect x="945.4" y="575.03" width="64.5" height="20.53" fill="#ff1f7a"/><rect x="1011.3" y="593.16" width="10.27" height="2.05" fill="#b2bdea"/><rect x="1021.57" y="582.28" width="10.27" height="12.93" fill="#fa3472"/><rect x="1031.83" y="576.12" width="10.27" height="19.09" fill="#ff1f7a"/><rect x="1042.1" y="590.69" width="10.27" height="4.52" fill="#bc9ae0"/><rect x="1052.37" y="592.13" width="10.27" height="3.08" fill="#a9a6f0"/><rect x="1062.63" y="591.51" width="10.27" height="3.7" fill="#a9a6f0"/><rect x="1020.97" y="593.16" width="1.2" height="2.05" fill="#fa3472"/><rect x="1031.23" y="582.28" width="1.2" height="12.93" fill="#ff1f7a"/><rect x="1041.5" y="590.69" width="1.2" height="4.52" fill="#ff1f7a"/><rect x="1051.77" y="592.13" width="1.2" height="3.08" fill="#bc9ae0"/><rect x="1062.03" y="592.13" width="1.2" height="3.08" fill="#a9a6f0"/><svg x="48" y="582.03" width="10" height="7.2" viewBox="0 0 10 7.2"><rect width="10" height="7.2" rx=".6" fill="#dc93aa"/><rect y="1.1" width="10" height=".9" fill="#eec0cc"/><rect y="3.2" width="10" height=".9" fill="#eec0cc"/><rect y="5.2" width="10" height=".9" fill="#eec0cc"/><rect width="4.8" height="3.6" rx=".4" fill="#46306e"/></svg><rect x="285.2" y="595.56" width="59.3" height="20.53" fill="#1ee265"/><rect x="344.5" y="595.56" width="75.8" height="20.53" fill="#5dbb4a"/><rect x="528" y="595.56" width="89.3" height="20.53" fill="#eeeeee"/><rect x="617.3" y="595.56" width="65.1" height="20.53" fill="#b5e67c"/><rect x="682.4" y="595.56" width="66" height="20.53" fill="#b5e67c"/><rect x="748.4" y="595.56" width="66.2" height="20.53" fill="#b5e67c"/><rect x="814.6" y="595.56" width="66.1" height="20.53" fill="#b5e67c"/><rect x="880.7" y="595.56" width="64.7" height="20.53" fill="#fe2278"/><rect x="945.4" y="595.56" width="64.5" height="20.53" fill="#ff1f7a"/><rect x="1011.3" y="612.66" width="10.27" height="3.08" fill="#a9a6f0"/><rect x="1021.57" y="599.93" width="10.27" height="15.81" fill="#ff1f7a"/><rect x="1031.83" y="602.4" width="10.27" height="13.34" fill="#ff1f7a"/><rect x="1042.1" y="596.65" width="10.27" height="19.09" fill="#ff1f7a"/><rect x="1052.37" y="599.93" width="10.27" height="15.81" fill="#ff1f7a"/><rect x="1062.63" y="597.88" width="10.27" height="17.86" fill="#ff1f7a"/><rect x="1020.97" y="612.66" width="1.2" height="3.08" fill="#ff1f7a"/><rect x="1031.23" y="602.4" width="1.2" height="13.34" fill="#ff1f7a"/><rect x="1041.5" y="602.4" width="1.2" height="13.34" fill="#ff1f7a"/><rect x="1051.77" y="599.93" width="1.2" height="15.81" fill="#ff1f7a"/><rect x="1062.03" y="599.93" width="1.2" height="15.81" fill="#ff1f7a"/><svg x="48" y="602.56" width="10" height="7.2" viewBox="0 0 10 7.2"><rect width="10" height="7.2" rx=".6" fill="#dc93aa"/><rect y="1.1" width="10" height=".9" fill="#eec0cc"/><rect y="3.2" width="10" height=".9" fill="#eec0cc"/><rect y="5.2" width="10" height=".9" fill="#eec0cc"/><rect width="4.8" height="3.6" rx=".4" fill="#46306e"/></svg><rect x="285.2" y="616.09" width="59.3" height="20.53" fill="#1ee265"/><rect x="344.5" y="616.09" width="75.8" height="20.53" fill="#5bbc4c"/><rect x="528" y="616.09" width="89.3" height="20.53" fill="#eeeeee"/><rect x="617.3" y="616.09" width="65.1" height="20.53" fill="#b5e67c"/><rect x="682.4" y="616.09" width="66" height="20.53" fill="#b5e67c"/><rect x="748.4" y="616.09" width="66.2" height="20.53" fill="#b5e67c"/><rect x="814.6" y="616.09" width="66.1" height="20.53" fill="#b5e67c"/><rect x="880.7" y="616.09" width="64.7" height="20.53" fill="#ff2079"/><rect x="945.4" y="616.09" width="64.5" height="20.53" fill="#ff1f7a"/><rect x="1011.3" y="634.22" width="10.27" height="2.05" fill="#b2bdea"/><rect x="1021.57" y="620.46" width="10.27" height="15.81" fill="#ff1f7a"/><rect x="1031.83" y="617.79" width="10.27" height="18.48" fill="#ff1f7a"/><rect x="1042.1" y="618.82" width="10.27" height="17.45" fill="#ff1f7a"/><rect x="1052.37" y="617.18" width="10.27" height="19.09" fill="#ff1f7a"/><rect x="1062.63" y="617.38" width="10.27" height="18.89" fill="#ff1f7a"/><rect x="1020.97" y="634.22" width="1.2" height="2.05" fill="#ff1f7a"/><rect x="1031.23" y="620.46" width="1.2" height="15.81" fill="#ff1f7a"/><rect x="1041.5" y="618.82" width="1.2" height="17.45" fill="#ff1f7a"/><rect x="1051.77" y="618.82" width="1.2" height="17.45" fill="#ff1f7a"/><rect x="1062.03" y="617.38" width="1.2" height="18.89" fill="#ff1f7a"/><svg x="48" y="623.09" width="10" height="7.2" viewBox="0 0 10 7.2"><rect width="10" height="7.2" rx=".6" fill="#dc93aa"/><rect y="1.1" width="10" height=".9" fill="#eec0cc"/><rect y="3.2" width="10" height=".9" fill="#eec0cc"/><rect y="5.2" width="10" height=".9" fill="#eec0cc"/><rect width="4.8" height="3.6" rx=".4" fill="#46306e"/></svg><rect x="285.2" y="636.62" width="59.3" height="20.53" fill="#1de365"/><rect x="344.5" y="636.62" width="75.8" height="20.53" fill="#6eb444"/><rect x="528" y="636.62" width="89.3" height="20.53" fill="#eeeeee"/><rect x="617.3" y="636.62" width="65.1" height="20.53" fill="#b5e67c"/><rect x="682.4" y="636.62" width="66" height="20.53" fill="#b5e67c"/><rect x="748.4" y="636.62" width="66.2" height="20.53" fill="#b5e67c"/><rect x="814.6" y="636.62" width="66.1" height="20.53" fill="#b5e67c"/><rect x="880.7" y="636.62" width="64.7" height="20.53" fill="#fe2478"/><rect x="945.4" y="636.62" width="64.5" height="20.53" fill="#ff1f7a"/><rect x="1011.3" y="654.13" width="10.27" height="2.67" fill="#b2bdea"/><rect x="1021.57" y="640.99" width="10.27" height="15.81" fill="#ff1f7a"/><rect x="1031.83" y="637.5" width="10.27" height="19.3" fill="#ff1f7a"/><rect x="1042.1" y="639.76" width="10.27" height="17.04" fill="#ff1f7a"/><rect x="1052.37" y="637.91" width="10.27" height="18.89" fill="#ff1f7a"/><rect x="1062.63" y="638.32" width="10.27" height="18.48" fill="#ff1f7a"/><rect x="1020.97" y="654.13" width="1.2" height="2.67" fill="#ff1f7a"/><rect x="1031.23" y="640.99" width="1.2" height="15.81" fill="#ff1f7a"/><rect x="1041.5" y="639.76" width="1.2" height="17.04" fill="#ff1f7a"/><rect x="1051.77" y="639.76" width="1.2" height="17.04" fill="#ff1f7a"/><rect x="1062.03" y="638.32" width="1.2" height="18.48" fill="#ff1f7a"/><svg x="48" y="643.62" width="10" height="7.2" viewBox="0 0 10 7.2"><rect width="10" height="7.2" rx=".6" fill="#dc93aa"/><rect y="1.1" width="10" height=".9" fill="#eec0cc"/><rect y="3.2" width="10" height=".9" fill="#eec0cc"/><rect y="5.2" width="10" height=".9" fill="#eec0cc"/><rect width="4.8" height="3.6" rx=".4" fill="#46306e"/></svg><rect x="285.2" y="657.15" width="59.3" height="20.53" fill="#1ee265"/><rect x="344.5" y="657.15" width="75.8" height="20.53" fill="#5bbc4c"/><rect x="528" y="657.15" width="89.3" height="20.53" fill="#eeeeee"/><rect x="617.3" y="657.15" width="65.1" height="20.53" fill="#b5e67c"/><rect x="682.4" y="657.15" width="66" height="20.53" fill="#b5e67c"/><rect x="748.4" y="657.15" width="66.2" height="20.53" fill="#b5e67c"/><rect x="814.6" y="657.15" width="66.1" height="20.53" fill="#b5e67c"/><rect x="880.7" y="657.15" width="64.7" height="20.53" fill="#ff2179"/><rect x="945.4" y="657.15" width="64.5" height="20.53" fill="#ff1f7a"/><rect x="1011.3" y="675.28" width="10.27" height="2.05" fill="#b2bdea"/><rect x="1021.57" y="658.03" width="10.27" height="19.3" fill="#ff1f7a"/><rect x="1031.83" y="658.03" width="10.27" height="19.3" fill="#ff1f7a"/><rect x="1042.1" y="658.03" width="10.27" height="19.3" fill="#ff1f7a"/><rect x="1052.37" y="658.03" width="10.27" height="19.3" fill="#ff1f7a"/><rect x="1062.63" y="658.03" width="10.27" height="19.3" fill="#ff1f7a"/><rect x="1020.97" y="675.28" width="1.2" height="2.05" fill="#ff1f7a"/><rect x="1031.23" y="658.03" width="1.2" height="19.3" fill="#ff1f7a"/><rect x="1041.5" y="658.03" width="1.2" height="19.3" fill="#ff1f7a"/><rect x="1051.77" y="658.03" width="1.2" height="19.3" fill="#ff1f7a"/><rect x="1062.03" y="658.03" width="1.2" height="19.3" fill="#ff1f7a"/><svg x="48" y="664.15" width="10" height="7.2" viewBox="0 0 10 7.2"><rect width="10" height="7.2" rx=".6" fill="#dc93aa"/><rect y="1.1" width="10" height=".9" fill="#eec0cc"/><rect y="3.2" width="10" height=".9" fill="#eec0cc"/><rect y="5.2" width="10" height=".9" fill="#eec0cc"/><rect width="4.8" height="3.6" rx=".4" fill="#46306e"/></svg><rect x="285.2" y="677.68" width="59.3" height="20.53" fill="#27d761"/><rect x="344.5" y="677.68" width="75.8" height="20.53" fill="#a68831"/><rect x="528" y="677.68" width="89.3" height="20.53" fill="#e9e9e9"/><rect x="617.3" y="677.68" width="65.1" height="20.53" fill="#b5e67c"/><rect x="682.4" y="677.68" width="66" height="20.53" fill="#f06e7a"/><rect x="748.4" y="677.68" width="66.2" height="20.53" fill="#b5e67c"/><rect x="814.6" y="677.68" width="66.1" height="20.53" fill="#b5e67c"/><rect x="880.7" y="677.68" width="64.7" height="20.53" fill="#ce98e2"/><rect x="945.4" y="677.68" width="64.5" height="20.53" fill="#f8416e"/><rect x="1021.57" y="696.22" width="10.27" height="1.64" fill="#b2bdea"/><rect x="1031.83" y="684.31" width="10.27" height="13.55" fill="#f6566b"/><rect x="1042.1" y="684.93" width="10.27" height="12.93" fill="#f6566b"/><rect x="1052.37" y="687.6" width="10.27" height="10.27" fill="#ec6e94"/><rect x="1062.63" y="687.6" width="10.27" height="10.27" fill="#ec6e94"/><rect x="1031.23" y="696.22" width="1.2" height="1.64" fill="#f6566b"/><rect x="1041.5" y="684.93" width="1.2" height="12.93" fill="#f6566b"/><rect x="1051.77" y="687.6" width="1.2" height="10.27" fill="#f6566b"/><rect x="1062.03" y="687.6" width="1.2" height="10.27" fill="#ec6e94"/><svg x="48" y="684.68" width="10" height="7.2" viewBox="0 0 10 7.2"><rect width="10" height="7.2" rx=".6" fill="#3a3a7a"/><path d="M0 0L10 7.2M10 0L0 7.2" stroke="#f3d6de" stroke-width="1.6"/><path d="M0 0L10 7.2M10 0L0 7.2" stroke="#d2204a" stroke-width=".7"/><path d="M5 0V7.2M0 3.6H10" stroke="#f6e4ea" stroke-width="2.6"/><path d="M5 0V7.2M0 3.6H10" stroke="#d2204a" stroke-width="1.5"/></svg><rect x="285.2" y="698.21" width="59.3" height="20.53" fill="#29d45f"/><rect x="344.5" y="698.21" width="75.8" height="20.53" fill="#b17529"/><rect x="528" y="698.21" width="89.3" height="20.53" fill="#e9e9e9"/><rect x="617.3" y="698.21" width="65.1" height="20.53" fill="#b5e67c"/><rect x="682.4" y="698.21" width="66" height="20.53" fill="#b5e67c"/><rect x="748.4" y="698.21" width="66.2" height="20.53" fill="#b5e67c"/><rect x="814.6" y="698.21" width="66.1" height="20.53" fill="#b5e67c"/><rect x="880.7" y="698.21" width="64.7" height="20.53" fill="#ee7ca4"/><rect x="945.4" y="698.21" width="64.5" height="20.53" fill="#fd2776"/><rect x="1021.57" y="716.95" width="10.27" height="1.44" fill="#b2bdea"/><rect x="1031.83" y="705.05" width="10.27" height="13.34" fill="#f6566b"/><rect x="1042.1" y="701.56" width="10.27" height="16.83" fill="#fa3472"/><rect x="1052.37" y="699.5" width="10.27" height="18.89" fill="#ff1f7a"/><rect x="1062.63" y="710.79" width="10.27" height="7.6" fill="#dc84b0"/><rect x="1031.23" y="716.95" width="1.2" height="1.44" fill="#f6566b"/><rect x="1041.5" y="705.05" width="1.2" height="13.34" fill="#fa3472"/><rect x="1051.77" y="701.56" width="1.2" height="16.83" fill="#ff1f7a"/><rect x="1062.03" y="710.79" width="1.2" height="7.6" fill="#ff1f7a"/><svg x="48" y="705.21" width="10" height="7.2" viewBox="0 0 10 7.2"><rect width="10" height="7.2" rx=".6" fill="#3a3a7a"/><path d="M0 0L10 7.2M10 0L0 7.2" stroke="#f3d6de" stroke-width="1.6"/><path d="M0 0L10 7.2M10 0L0 7.2" stroke="#d2204a" stroke-width=".7"/><path d="M5 0V7.2M0 3.6H10" stroke="#f6e4ea" stroke-width="2.6"/><path d="M5 0V7.2M0 3.6H10" stroke="#d2204a" stroke-width="1.5"/></svg><rect x="285.2" y="718.74" width="59.3" height="20.53" fill="#18e968"/><rect x="344.5" y="718.74" width="75.8" height="20.53" fill="#3ccd5a"/><rect x="528" y="718.74" width="89.3" height="20.53" fill="#eeeeee"/><rect x="617.3" y="718.74" width="65.1" height="20.53" fill="#b5e67c"/><rect x="682.4" y="718.74" width="66" height="20.53" fill="#f06e7a"/><rect x="748.4" y="718.74" width="66.2" height="20.53" fill="#b5e67c"/><rect x="814.6" y="718.74" width="66.1" height="20.53" fill="#b5e67c"/><rect x="880.7" y="718.74" width="64.7" height="20.53" fill="#ff1f7a"/><rect x="945.4" y="718.74" width="64.5" height="20.53" fill="#ff1f7a"/><rect x="1011.3" y="735.84" width="10.27" height="3.08" fill="#a9a6f0"/><rect x="1021.57" y="729.27" width="10.27" height="9.65" fill="#fa3472"/><rect x="1031.83" y="725.58" width="10.27" height="13.34" fill="#fa3472"/><rect x="1042.1" y="730.09" width="10.27" height="8.83" fill="#f6566b"/><rect x="1052.37" y="721.88" width="10.27" height="17.04" fill="#ff1f7a"/><rect x="1062.63" y="719.42" width="10.27" height="19.5" fill="#ff1f7a"/><rect x="1020.97" y="735.84" width="1.2" height="3.08" fill="#fa3472"/><rect x="1031.23" y="729.27" width="1.2" height="9.65" fill="#fa3472"/><rect x="1041.5" y="730.09" width="1.2" height="8.83" fill="#fa3472"/><rect x="1051.77" y="730.09" width="1.2" height="8.83" fill="#ff1f7a"/><rect x="1062.03" y="721.88" width="1.2" height="17.04" fill="#ff1f7a"/><svg x="48" y="725.74" width="10" height="7.2" viewBox="0 0 10 7.2"><rect width="10" height="7.2" rx=".6" fill="#fff" stroke="#f0f0f0" stroke-width=".4"/><path d="M1.6 1.3l1.3 -.9M7.1 .4l1.3 .9M1.6 5.9l1.3 .9M7.1 6.8l1.3 -.9" stroke="#444" stroke-width="1.1"/><circle cx="5" cy="3.6" r="1.6" fill="#34305a"/><path d="M3.4 3.6a1.6 1.6 0 0 1 3.2 0z" fill="#b83050"/></svg><rect x="285.2" y="739.27" width="59.3" height="20.53" fill="#1ae667"/><rect x="344.5" y="739.27" width="75.8" height="20.53" fill="#4ac453"/><rect x="528" y="739.27" width="89.3" height="20.53" fill="#eeeeee"/><rect x="617.3" y="739.27" width="65.1" height="20.53" fill="#b5e67c"/><rect x="682.4" y="739.27" width="66" height="20.53" fill="#f06e7a"/><rect x="748.4" y="739.27" width="66.2" height="20.53" fill="#b5e67c"/><rect x="814.6" y="739.27" width="66.1" height="20.53" fill="#b5e67c"/><rect x="880.7" y="739.27" width="64.7" height="20.53" fill="#ff1f7a"/><rect x="945.4" y="739.27" width="64.5" height="20.53" fill="#ff1f7a"/><rect x="1011.3" y="751.65" width="10.27" height="7.8" fill="#ec6e94"/><rect x="1021.57" y="742.41" width="10.27" height="17.04" fill="#ff1f7a"/><rect x="1031.83" y="740.97" width="10.27" height="18.48" fill="#ff1f7a"/><rect x="1042.1" y="740.15" width="10.27" height="19.3" fill="#ff1f7a"/><rect x="1052.37" y="740.15" width="10.27" height="19.3" fill="#ff1f7a"/><rect x="1062.63" y="740.15" width="10.27" height="19.3" fill="#ff1f7a"/><rect x="1020.97" y="751.65" width="1.2" height="7.8" fill="#ff1f7a"/><rect x="1031.23" y="742.41" width="1.2" height="17.04" fill="#ff1f7a"/><rect x="1041.5" y="740.97" width="1.2" height="18.48" fill="#ff1f7a"/><rect x="1051.77" y="740.15" width="1.2" height="19.3" fill="#ff1f7a"/><rect x="1062.03" y="740.15" width="1.2" height="19.3" fill="#ff1f7a"/><svg x="48" y="746.27" width="10" height="7.2" viewBox="0 0 10 7.2"><rect width="10" height="7.2" rx=".6" fill="#fff" stroke="#f0f0f0" stroke-width=".4"/><path d="M1.6 1.3l1.3 -.9M7.1 .4l1.3 .9M1.6 5.9l1.3 .9M7.1 6.8l1.3 -.9" stroke="#444" stroke-width="1.1"/><circle cx="5" cy="3.6" r="1.6" fill="#34305a"/><path d="M3.4 3.6a1.6 1.6 0 0 1 3.2 0z" fill="#b83050"/></svg><g font-family="'Liberation Sans',sans-serif" font-size="22" letter-spacing="1.5" fill="#d6d6d6" opacity=".45"><text transform="translate(532 73) rotate(-20)">MiaoKo</text><text transform="translate(532 184) rotate(-20)">MiaoKo</text><text transform="translate(532 295) rotate(-20)">MiaoKo</text><text transform="translate(532 406) rotate(-20)">MiaoKo</text><text transform="translate(532 517) rotate(-20)">MiaoKo</text><text transform="translate(532 628) rotate(-20)">MiaoKo</text><text transform="translate(532 739) rotate(-20)">MiaoKo</text></g><rect x="0" y="40.75" width="1200" height="1" fill="#d9d9d9" opacity=".5"/><rect x="0" y="61.28" width="285.2" height="1" fill="#d9d9d9"/><rect x="1009.9" y="61.28" width="63.3" height="1" fill="#f1e7ec"/><rect x="1073.2" y="61.28" width="126.8" height="1" fill="#d9d9d9"/><rect x="285.2" y="61.28" width="135.1" height="1" fill="#fff" opacity="0.3"/><rect x="528" y="61.28" width="89.3" height="1" fill="#fff" opacity="0.45"/><rect x="617.3" y="61.28" width="263.4" height="1" fill="#fff" opacity="0.3"/><rect x="880.7" y="61.28" width="129.2" height="1" fill="#fff" opacity="0.5"/><rect x="0" y="81.81" width="285.2" height="1" fill="#d9d9d9"/><rect x="1009.9" y="81.81" width="63.3" height="1" fill="#f1e7ec"/><rect x="1073.2" y="81.81" width="126.8" height="1" fill="#d9d9d9"/><rect x="285.2" y="81.81" width="135.1" height="1" fill="#fff" opacity="0.3"/><rect x="528" y="81.81" width="89.3" height="1" fill="#fff" opacity="0.45"/><rect x="617.3" y="81.81" width="263.4" height="1" fill="#fff" opacity="0.3"/><rect x="880.7" y="81.81" width="129.2" height="1" fill="#fff" opacity="0.5"/><rect x="0" y="102.34" width="285.2" height="1" fill="#d9d9d9"/><rect x="1009.9" y="102.34" width="63.3" height="1" fill="#f1e7ec"/><rect x="1073.2" y="102.34" width="126.8" height="1" fill="#d9d9d9"/><rect x="285.2" y="102.34" width="135.1" height="1" fill="#fff" opacity="0.3"/><rect x="528" y="102.34" width="89.3" height="1" fill="#fff" opacity="0.45"/><rect x="617.3" y="102.34" width="263.4" height="1" fill="#fff" opacity="0.3"/><rect x="880.7" y="102.34" width="129.2" height="1" fill="#fff" opacity="0.5"/><rect x="0" y="122.87" width="285.2" height="1" fill="#d9d9d9"/><rect x="1009.9" y="122.87" width="63.3" height="1" fill="#f1e7ec"/><rect x="1073.2" y="122.87" width="126.8" height="1" fill="#d9d9d9"/><rect x="285.2" y="122.87" width="135.1" height="1" fill="#fff" opacity="0.3"/><rect x="528" y="122.87" width="89.3" height="1" fill="#fff" opacity="0.45"/><rect x="617.3" y="122.87" width="263.4" height="1" fill="#fff" opacity="0.3"/><rect x="880.7" y="122.87" width="129.2" height="1" fill="#fff" opacity="0.5"/><rect x="0" y="143.4" width="285.2" height="1" fill="#d9d9d9"/><rect x="1009.9" y="143.4" width="63.3" height="1" fill="#f1e7ec"/><rect x="1073.2" y="143.4" width="126.8" height="1" fill="#d9d9d9"/><rect x="285.2" y="143.4" width="135.1" height="1" fill="#fff" opacity="0.3"/><rect x="528" y="143.4" width="89.3" height="1" fill="#fff" opacity="0.45"/><rect x="617.3" y="143.4" width="263.4" height="1" fill="#fff" opacity="0.3"/><rect x="880.7" y="143.4" width="129.2" height="1" fill="#fff" opacity="0.5"/><rect x="0" y="163.93" width="285.2" height="1" fill="#d9d9d9"/><rect x="1009.9" y="163.93" width="63.3" height="1" fill="#f1e7ec"/><rect x="1073.2" y="163.93" width="126.8" height="1" fill="#d9d9d9"/><rect x="285.2" y="163.93" width="135.1" height="1" fill="#fff" opacity="0.3"/><rect x="528" y="163.93" width="89.3" height="1" fill="#fff" opacity="0.45"/><rect x="617.3" y="163.93" width="263.4" height="1" fill="#fff" opacity="0.3"/><rect x="880.7" y="163.93" width="129.2" height="1" fill="#fff" opacity="0.5"/><rect x="0" y="184.46" width="285.2" height="1" fill="#d9d9d9"/><rect x="1009.9" y="184.46" width="63.3" height="1" fill="#f1e7ec"/><rect x="1073.2" y="184.46" width="126.8" height="1" fill="#d9d9d9"/><rect x="285.2" y="184.46" width="135.1" height="1" fill="#fff" opacity="0.3"/><rect x="528" y="184.46" width="89.3" height="1" fill="#fff" opacity="0.45"/><rect x="617.3" y="184.46" width="263.4" height="1" fill="#fff" opacity="0.3"/><rect x="880.7" y="184.46" width="129.2" height="1" fill="#fff" opacity="0.5"/><rect x="0" y="204.99" width="285.2" height="1" fill="#d9d9d9"/><rect x="1009.9" y="204.99" width="63.3" height="1" fill="#f1e7ec"/><rect x="1073.2" y="204.99" width="126.8" height="1" fill="#d9d9d9"/><rect x="285.2" y="204.99" width="135.1" height="1" fill="#fff" opacity="0.3"/><rect x="528" y="204.99" width="89.3" height="1" fill="#fff" opacity="0.45"/><rect x="617.3" y="204.99" width="263.4" height="1" fill="#fff" opacity="0.3"/><rect x="880.7" y="204.99" width="129.2" height="1" fill="#fff" opacity="0.5"/><rect x="0" y="225.52" width="285.2" height="1" fill="#d9d9d9"/><rect x="1009.9" y="225.52" width="63.3" height="1" fill="#f1e7ec"/><rect x="1073.2" y="225.52" width="126.8" height="1" fill="#d9d9d9"/><rect x="285.2" y="225.52" width="135.1" height="1" fill="#fff" opacity="0.3"/><rect x="528" y="225.52" width="89.3" height="1" fill="#fff" opacity="0.45"/><rect x="617.3" y="225.52" width="263.4" height="1" fill="#fff" opacity="0.3"/><rect x="880.7" y="225.52" width="129.2" height="1" fill="#fff" opacity="0.5"/><rect x="0" y="246.05" width="285.2" height="1" fill="#d9d9d9"/><rect x="1009.9" y="246.05" width="63.3" height="1" fill="#f1e7ec"/><rect x="1073.2" y="246.05" width="126.8" height="1" fill="#d9d9d9"/><rect x="285.2" y="246.05" width="135.1" height="1" fill="#fff" opacity="0.3"/><rect x="528" y="246.05" width="89.3" height="1" fill="#fff" opacity="0.45"/><rect x="617.3" y="246.05" width="263.4" height="1" fill="#fff" opacity="0.3"/><rect x="880.7" y="246.05" width="129.2" height="1" fill="#fff" opacity="0.5"/><rect x="0" y="266.58" width="285.2" height="1" fill="#d9d9d9"/><rect x="1009.9" y="266.58" width="63.3" height="1" fill="#f1e7ec"/><rect x="1073.2" y="266.58" width="126.8" height="1" fill="#d9d9d9"/><rect x="285.2" y="266.58" width="135.1" height="1" fill="#fff" opacity="0.3"/><rect x="528" y="266.58" width="89.3" height="1" fill="#fff" opacity="0.45"/><rect x="617.3" y="266.58" width="263.4" height="1" fill="#fff" opacity="0.3"/><rect x="880.7" y="266.58" width="129.2" height="1" fill="#fff" opacity="0.5"/><rect x="0" y="287.11" width="285.2" height="1" fill="#d9d9d9"/><rect x="1009.9" y="287.11" width="63.3" height="1" fill="#f1e7ec"/><rect x="1073.2" y="287.11" width="126.8" height="1" fill="#d9d9d9"/><rect x="285.2" y="287.11" width="135.1" height="1" fill="#fff" opacity="0.3"/><rect x="528" y="287.11" width="89.3" height="1" fill="#fff" opacity="0.45"/><rect x="617.3" y="287.11" width="263.4" height="1" fill="#fff" opacity="0.3"/><rect x="880.7" y="287.11" width="129.2" height="1" fill="#fff" opacity="0.5"/><rect x="0" y="307.64" width="285.2" height="1" fill="#d9d9d9"/><rect x="1009.9" y="307.64" width="63.3" height="1" fill="#f1e7ec"/><rect x="1073.2" y="307.64" width="126.8" height="1" fill="#d9d9d9"/><rect x="285.2" y="307.64" width="135.1" height="1" fill="#fff" opacity="0.3"/><rect x="528" y="307.64" width="89.3" height="1" fill="#fff" opacity="0.45"/><rect x="617.3" y="307.64" width="263.4" height="1" fill="#fff" opacity="0.3"/><rect x="880.7" y="307.64" width="129.2" height="1" fill="#fff" opacity="0.5"/><rect x="0" y="328.17" width="285.2" height="1" fill="#d9d9d9"/><rect x="1009.9" y="328.17" width="63.3" height="1" fill="#f1e7ec"/><rect x="1073.2" y="328.17" width="126.8" height="1" fill="#d9d9d9"/><rect x="285.2" y="328.17" width="135.1" height="1" fill="#fff" opacity="0.3"/><rect x="528" y="328.17" width="89.3" height="1" fill="#fff" opacity="0.45"/><rect x="617.3" y="328.17" width="263.4" height="1" fill="#fff" opacity="0.3"/><rect x="880.7" y="328.17" width="129.2" height="1" fill="#fff" opacity="0.5"/><rect x="0" y="348.7" width="285.2" height="1" fill="#d9d9d9"/><rect x="1009.9" y="348.7" width="63.3" height="1" fill="#f1e7ec"/><rect x="1073.2" y="348.7" width="126.8" height="1" fill="#d9d9d9"/><rect x="285.2" y="348.7" width="135.1" height="1" fill="#fff" opacity="0.3"/><rect x="528" y="348.7" width="89.3" height="1" fill="#fff" opacity="0.45"/><rect x="617.3" y="348.7" width="263.4" height="1" fill="#fff" opacity="0.3"/><rect x="880.7" y="348.7" width="129.2" height="1" fill="#fff" opacity="0.5"/><rect x="0" y="369.23" width="285.2" height="1" fill="#d9d9d9"/><rect x="1009.9" y="369.23" width="63.3" height="1" fill="#f1e7ec"/><rect x="1073.2" y="369.23" width="126.8" height="1" fill="#d9d9d9"/><rect x="285.2" y="369.23" width="135.1" height="1" fill="#fff" opacity="0.3"/><rect x="528" y="369.23" width="89.3" height="1" fill="#fff" opacity="0.45"/><rect x="617.3" y="369.23" width="263.4" height="1" fill="#fff" opacity="0.3"/><rect x="880.7" y="369.23" width="129.2" height="1" fill="#fff" opacity="0.5"/><rect x="0" y="389.76" width="285.2" height="1" fill="#d9d9d9"/><rect x="1009.9" y="389.76" width="63.3" height="1" fill="#f1e7ec"/><rect x="1073.2" y="389.76" width="126.8" height="1" fill="#d9d9d9"/><rect x="285.2" y="389.76" width="135.1" height="1" fill="#fff" opacity="0.3"/><rect x="528" y="389.76" width="89.3" height="1" fill="#fff" opacity="0.45"/><rect x="617.3" y="389.76" width="263.4" height="1" fill="#fff" opacity="0.3"/><rect x="880.7" y="389.76" width="129.2" height="1" fill="#fff" opacity="0.5"/><rect x="0" y="410.29" width="285.2" height="1" fill="#d9d9d9"/><rect x="1009.9" y="410.29" width="63.3" height="1" fill="#f1e7ec"/><rect x="1073.2" y="410.29" width="126.8" height="1" fill="#d9d9d9"/><rect x="285.2" y="410.29" width="135.1" height="1" fill="#fff" opacity="0.3"/><rect x="528" y="410.29" width="89.3" height="1" fill="#fff" opacity="0.45"/><rect x="617.3" y="410.29" width="263.4" height="1" fill="#fff" opacity="0.3"/><rect x="880.7" y="410.29" width="129.2" height="1" fill="#fff" opacity="0.5"/><rect x="0" y="430.82" width="285.2" height="1" fill="#d9d9d9"/><rect x="1009.9" y="430.82" width="63.3" height="1" fill="#f1e7ec"/><rect x="1073.2" y="430.82" width="126.8" height="1" fill="#d9d9d9"/><rect x="285.2" y="430.82" width="135.1" height="1" fill="#fff" opacity="0.3"/><rect x="528" y="430.82" width="89.3" height="1" fill="#fff" opacity="0.45"/><rect x="617.3" y="430.82" width="263.4" height="1" fill="#fff" opacity="0.3"/><rect x="880.7" y="430.82" width="129.2" height="1" fill="#fff" opacity="0.5"/><rect x="0" y="451.35" width="285.2" height="1" fill="#d9d9d9"/><rect x="1009.9" y="451.35" width="63.3" height="1" fill="#f1e7ec"/><rect x="1073.2" y="451.35" width="126.8" height="1" fill="#d9d9d9"/><rect x="285.2" y="451.35" width="135.1" height="1" fill="#fff" opacity="0.3"/><rect x="528" y="451.35" width="89.3" height="1" fill="#fff" opacity="0.45"/><rect x="617.3" y="451.35" width="263.4" height="1" fill="#fff" opacity="0.3"/><rect x="880.7" y="451.35" width="129.2" height="1" fill="#fff" opacity="0.5"/><rect x="0" y="471.88" width="285.2" height="1" fill="#d9d9d9"/><rect x="1009.9" y="471.88" width="63.3" height="1" fill="#f1e7ec"/><rect x="1073.2" y="471.88" width="126.8" height="1" fill="#d9d9d9"/><rect x="285.2" y="471.88" width="135.1" height="1" fill="#fff" opacity="0.3"/><rect x="528" y="471.88" width="89.3" height="1" fill="#fff" opacity="0.45"/><rect x="617.3" y="471.88" width="263.4" height="1" fill="#fff" opacity="0.3"/><rect x="880.7" y="471.88" width="129.2" height="1" fill="#fff" opacity="0.5"/><rect x="0" y="492.41" width="285.2" height="1" fill="#d9d9d9"/><rect x="1009.9" y="492.41" width="63.3" height="1" fill="#f1e7ec"/><rect x="1073.2" y="492.41" width="126.8" height="1" fill="#d9d9d9"/><rect x="285.2" y="492.41" width="135.1" height="1" fill="#fff" opacity="0.3"/><rect x="528" y="492.41" width="89.3" height="1" fill="#fff" opacity="0.45"/><rect x="617.3" y="492.41" width="263.4" height="1" fill="#fff" opacity="0.3"/><rect x="880.7" y="492.41" width="129.2" height="1" fill="#fff" opacity="0.5"/><rect x="0" y="512.94" width="285.2" height="1" fill="#d9d9d9"/><rect x="1009.9" y="512.94" width="63.3" height="1" fill="#f1e7ec"/><rect x="1073.2" y="512.94" width="126.8" height="1" fill="#d9d9d9"/><rect x="285.2" y="512.94" width="135.1" height="1" fill="#fff" opacity="0.3"/><rect x="528" y="512.94" width="89.3" height="1" fill="#fff" opacity="0.45"/><rect x="617.3" y="512.94" width="263.4" height="1" fill="#fff" opacity="0.3"/><rect x="880.7" y="512.94" width="129.2" height="1" fill="#fff" opacity="0.5"/><rect x="0" y="533.47" width="285.2" height="1" fill="#d9d9d9"/><rect x="1009.9" y="533.47" width="63.3" height="1" fill="#f1e7ec"/><rect x="1073.2" y="533.47" width="126.8" height="1" fill="#d9d9d9"/><rect x="285.2" y="533.47" width="135.1" height="1" fill="#fff" opacity="0.3"/><rect x="528" y="533.47" width="89.3" height="1" fill="#fff" opacity="0.45"/><rect x="617.3" y="533.47" width="263.4" height="1" fill="#fff" opacity="0.3"/><rect x="880.7" y="533.47" width="129.2" height="1" fill="#fff" opacity="0.5"/><rect x="0" y="554" width="285.2" height="1" fill="#d9d9d9"/><rect x="1009.9" y="554" width="63.3" height="1" fill="#f1e7ec"/><rect x="1073.2" y="554" width="126.8" height="1" fill="#d9d9d9"/><rect x="285.2" y="554" width="135.1" height="1" fill="#fff" opacity="0.3"/><rect x="528" y="554" width="89.3" height="1" fill="#fff" opacity="0.45"/><rect x="617.3" y="554" width="263.4" height="1" fill="#fff" opacity="0.3"/><rect x="880.7" y="554" width="129.2" height="1" fill="#fff" opacity="0.5"/><rect x="0" y="574.53" width="285.2" height="1" fill="#d9d9d9"/><rect x="1009.9" y="574.53" width="63.3" height="1" fill="#f1e7ec"/><rect x="1073.2" y="574.53" width="126.8" height="1" fill="#d9d9d9"/><rect x="285.2" y="574.53" width="135.1" height="1" fill="#fff" opacity="0.3"/><rect x="528" y="574.53" width="89.3" height="1" fill="#fff" opacity="0.45"/><rect x="617.3" y="574.53" width="263.4" height="1" fill="#fff" opacity="0.3"/><rect x="880.7" y="574.53" width="129.2" height="1" fill="#fff" opacity="0.5"/><rect x="0" y="595.06" width="285.2" height="1" fill="#d9d9d9"/><rect x="1009.9" y="595.06" width="63.3" height="1" fill="#f1e7ec"/><rect x="1073.2" y="595.06" width="126.8" height="1" fill="#d9d9d9"/><rect x="285.2" y="595.06" width="135.1" height="1" fill="#fff" opacity="0.3"/><rect x="528" y="595.06" width="89.3" height="1" fill="#fff" opacity="0.45"/><rect x="617.3" y="595.06" width="263.4" height="1" fill="#fff" opacity="0.3"/><rect x="880.7" y="595.06" width="129.2" height="1" fill="#fff" opacity="0.5"/><rect x="0" y="615.59" width="285.2" height="1" fill="#d9d9d9"/><rect x="1009.9" y="615.59" width="63.3" height="1" fill="#f1e7ec"/><rect x="1073.2" y="615.59" width="126.8" height="1" fill="#d9d9d9"/><rect x="285.2" y="615.59" width="135.1" height="1" fill="#fff" opacity="0.3"/><rect x="528" y="615.59" width="89.3" height="1" fill="#fff" opacity="0.45"/><rect x="617.3" y="615.59" width="263.4" height="1" fill="#fff" opacity="0.3"/><rect x="880.7" y="615.59" width="129.2" height="1" fill="#fff" opacity="0.5"/><rect x="0" y="636.12" width="285.2" height="1" fill="#d9d9d9"/><rect x="1009.9" y="636.12" width="63.3" height="1" fill="#f1e7ec"/><rect x="1073.2" y="636.12" width="126.8" height="1" fill="#d9d9d9"/><rect x="285.2" y="636.12" width="135.1" height="1" fill="#fff" opacity="0.3"/><rect x="528" y="636.12" width="89.3" height="1" fill="#fff" opacity="0.45"/><rect x="617.3" y="636.12" width="263.4" height="1" fill="#fff" opacity="0.3"/><rect x="880.7" y="636.12" width="129.2" height="1" fill="#fff" opacity="0.5"/><rect x="0" y="656.65" width="285.2" height="1" fill="#d9d9d9"/><rect x="1009.9" y="656.65" width="63.3" height="1" fill="#f1e7ec"/><rect x="1073.2" y="656.65" width="126.8" height="1" fill="#d9d9d9"/><rect x="285.2" y="656.65" width="135.1" height="1" fill="#fff" opacity="0.3"/><rect x="528" y="656.65" width="89.3" height="1" fill="#fff" opacity="0.45"/><rect x="617.3" y="656.65" width="263.4" height="1" fill="#fff" opacity="0.3"/><rect x="880.7" y="656.65" width="129.2" height="1" fill="#fff" opacity="0.5"/><rect x="0" y="677.18" width="285.2" height="1" fill="#d9d9d9"/><rect x="1009.9" y="677.18" width="63.3" height="1" fill="#f1e7ec"/><rect x="1073.2" y="677.18" width="126.8" height="1" fill="#d9d9d9"/><rect x="285.2" y="677.18" width="135.1" height="1" fill="#fff" opacity="0.3"/><rect x="528" y="677.18" width="89.3" height="1" fill="#fff" opacity="0.45"/><rect x="617.3" y="677.18" width="263.4" height="1" fill="#fff" opacity="0.3"/><rect x="880.7" y="677.18" width="129.2" height="1" fill="#fff" opacity="0.5"/><rect x="0" y="697.71" width="285.2" height="1" fill="#d9d9d9"/><rect x="1009.9" y="697.71" width="63.3" height="1" fill="#f1e7ec"/><rect x="1073.2" y="697.71" width="126.8" height="1" fill="#d9d9d9"/><rect x="285.2" y="697.71" width="135.1" height="1" fill="#fff" opacity="0.3"/><rect x="528" y="697.71" width="89.3" height="1" fill="#fff" opacity="0.45"/><rect x="617.3" y="697.71" width="263.4" height="1" fill="#fff" opacity="0.3"/><rect x="880.7" y="697.71" width="129.2" height="1" fill="#fff" opacity="0.5"/><rect x="0" y="718.24" width="285.2" height="1" fill="#d9d9d9"/><rect x="1009.9" y="718.24" width="63.3" height="1" fill="#f1e7ec"/><rect x="1073.2" y="718.24" width="126.8" height="1" fill="#d9d9d9"/><rect x="285.2" y="718.24" width="135.1" height="1" fill="#fff" opacity="0.3"/><rect x="528" y="718.24" width="89.3" height="1" fill="#fff" opacity="0.45"/><rect x="617.3" y="718.24" width="263.4" height="1" fill="#fff" opacity="0.3"/><rect x="880.7" y="718.24" width="129.2" height="1" fill="#fff" opacity="0.5"/><rect x="0" y="738.77" width="285.2" height="1" fill="#d9d9d9"/><rect x="1009.9" y="738.77" width="63.3" height="1" fill="#f1e7ec"/><rect x="1073.2" y="738.77" width="126.8" height="1" fill="#d9d9d9"/><rect x="285.2" y="738.77" width="135.1" height="1" fill="#fff" opacity="0.3"/><rect x="528" y="738.77" width="89.3" height="1" fill="#fff" opacity="0.45"/><rect x="617.3" y="738.77" width="263.4" height="1" fill="#fff" opacity="0.3"/><rect x="880.7" y="738.77" width="129.2" height="1" fill="#fff" opacity="0.5"/><rect x="0" y="759.3" width="1200" height="1" fill="#d9d9d9" opacity=".5"/><rect x="0" y="779.83" width="1200" height="1" fill="#e0e0e0"/><rect x="0" y="800.36" width="1200" height="1" fill="#e0e0e0"/><rect x="344" y="41.25" width="1" height="718.55" fill="#fff" opacity=".5"/><rect x="419.8" y="41.25" width="1" height="718.55" fill="#fff" opacity=".5"/><rect x="681.9" y="41.25" width="1" height="718.55" fill="#fff" opacity=".5"/><rect x="747.9" y="41.25" width="1" height="718.55" fill="#fff" opacity=".5"/><rect x="814.1" y="41.25" width="1" height="718.55" fill="#fff" opacity=".5"/><rect x="880.2" y="41.25" width="1" height="718.55" fill="#fff" opacity=".5"/><rect x="944.9" y="41.25" width="1" height="718.55" fill="#fff" opacity=".5"/><rect x="8.3" y="765.2" width="10.6" height="10.2" rx="1.8" fill="#8cc66c"/><rect x="9.1" y="766" width="9" height="8.6" rx="1.2" fill="#68a840"/><path d="M10.9 770.4l2.2 2.2 3.6 -4.3" stroke="#fff" stroke-width="1.6" fill="none"/></svg>
<div id="x">
<div class="r" style="top:0.15px;font-size:13.05px"><span style="position:absolute;left:429px">*.boats-6497 - MiaoKo 自定义测试 | normalspeed - 普通测速</span></div>
<div class="r" style="top:21.62px">
<div class="c" style="left:0px;width:40px;font-size:12.4px">序号</div>
<div class="c" style="left:40px;width:152px;font-size:12.2px">节点名称</div>
<div class="c" style="left:192px;width:93.2px;font-size:12.4px">类型</div>
<div class="c" style="left:285.2px;width:59.3px;font-size:12.8px">TLS RTT</div>
<div class="c" style="left:344.5px;width:75.8px;font-size:12.6px">HTTPS延迟</div>
<div class="c" style="left:420.3px;width:107.7px;font-size:12.8px">IPtype</div>
<div class="c" style="left:528px;width:89.3px;font-size:12.8px">IPrisk</div>
<div class="c" style="left:617.3px;width:65.1px;font-size:12.8px">Disney+</div>
<div class="c" style="left:682.4px;width:66px;font-size:12.8px">Netflix</div>
<div class="c" style="left:748.4px;width:66.2px;font-size:12.8px">YouTube</div>
<div class="c" style="left:814.6px;width:66.1px;font-size:12.8px">OpenAI</div>
<div class="c" style="left:880.7px;width:64.7px;font-size:12.3px">平均速度</div>
<div class="c" style="left:945.4px;width:64.5px;font-size:12.3px">最高速度</div>
<div class="c" style="left:1009.9px;width:63.1px;font-size:12.3px">每秒速度</div>
<div class="c" style="left:1073px;width:127px;font-size:12.6px">UDP类型</div>
</div>
<div class="r" style="top:42.05px">
<div class="c" style="left:0px;width:40px;">1</div>
<div class="c" style="left:40px;width:152px;font-size:12.4px">距离下次重置剩余：16 天</div>
<div class="c" style="left:192px;width:93.2px;">Shadowsocks</div>
<div class="c g" style="left:285.2px;width:59.3px;">86ms</div>
<div class="c g" style="left:344.5px;width:75.8px;">252ms</div>
<div class="c o" style="left:420.3px;width:107.7px;">商宽/机房IP</div>
<div class="c" style="left:528px;width:89.3px;">LOW(13)</div>
<div class="c l" style="left:617.3px;width:65.1px;">解锁(HK)</div>
<div class="c l" style="left:682.4px;width:66px;">解锁(HK)</div>
<div class="c l" style="left:748.4px;width:66.2px;">解锁(HK)</div>
<div class="c l" style="left:814.6px;width:66.1px;">解锁(TW)</div>
<div class="c p" style="left:880.7px;width:64.7px;">64.19MB</div>
<div class="c p" style="left:945.4px;width:64.5px;">76.80MB</div>
<div class="c u" style="left:1073px;width:127px;">Unknown</div>
</div>
<div class="r" style="top:62.58px">
<div class="c" style="left:0px;width:40px;">2</div>
<div class="c n" style="left:40px;width:152px;font-size:13.2px"><span style="position:absolute;left:24.3px">Hong Kong 01</span></div>
<div class="c" style="left:192px;width:93.2px;">Shadowsocks</div>
<div class="c g" style="left:285.2px;width:59.3px;">122ms</div>
<div class="c g" style="left:344.5px;width:75.8px;">299ms</div>
<div class="c o" style="left:420.3px;width:107.7px;">商宽/机房IP</div>
<div class="c" style="left:528px;width:89.3px;">LOW(13)</div>
<div class="c l" style="left:617.3px;width:65.1px;">解锁(HK)</div>
<div class="c l" style="left:682.4px;width:66px;">解锁(HK)</div>
<div class="c l" style="left:748.4px;width:66.2px;">解锁(HK)</div>
<div class="c l" style="left:814.6px;width:66.1px;">解锁(TW)</div>
<div class="c p" style="left:880.7px;width:64.7px;">55.82MB</div>
<div class="c p" style="left:945.4px;width:64.5px;">86.25MB</div>
<div class="c u" style="left:1073px;width:127px;">FullCone</div>
</div>
<div class="r" style="top:83.11px">
<div class="c" style="left:0px;width:40px;">3</div>
<div class="c n" style="left:40px;width:152px;font-size:13.2px"><span style="position:absolute;left:24.3px">Hong Kong 02</span></div>
<div class="c" style="left:192px;width:93.2px;">Shadowsocks</div>
<div class="c g" style="left:285.2px;width:59.3px;">98ms</div>
<div class="c g" style="left:344.5px;width:75.8px;">262ms</div>
<div class="c o" style="left:420.3px;width:107.7px;">商宽/机房IP</div>
<div class="c" style="left:528px;width:89.3px;">LOW(13)</div>
<div class="c l" style="left:617.3px;width:65.1px;">解锁(HK)</div>
<div class="c l" style="left:682.4px;width:66px;">解锁(HK)</div>
<div class="c l" style="left:748.4px;width:66.2px;">解锁(HK)</div>
<div class="c l" style="left:814.6px;width:66.1px;">解锁(TW)</div>
<div class="c p" style="left:880.7px;width:64.7px;">38.39MB</div>
<div class="c p" style="left:945.4px;width:64.5px;">58.81MB</div>
<div class="c u" style="left:1073px;width:127px;">FullCone</div>
</div>
<div class="r" style="top:103.64px">
<div class="c" style="left:0px;width:40px;">4</div>
<div class="c n" style="left:40px;width:152px;font-size:13.2px"><span style="position:absolute;left:24.3px">Hong Kong 03</span></div>
<div class="c" style="left:192px;width:93.2px;">Shadowsocks</div>
<div class="c g" style="left:285.2px;width:59.3px;">74ms</div>
<div class="c g" style="left:344.5px;width:75.8px;">233ms</div>
<div class="c o" style="left:420.3px;width:107.7px;">商宽/机房IP</div>
<div class="c" style="left:528px;width:89.3px;">LOW(13)</div>
<div class="c l" style="left:617.3px;width:65.1px;">解锁(HK)</div>
<div class="c l" style="left:682.4px;width:66px;">解锁(HK)</div>
<div class="c l" style="left:748.4px;width:66.2px;">解锁(HK)</div>
<div class="c l" style="left:814.6px;width:66.1px;">解锁(TW)</div>
<div class="c p" style="left:880.7px;width:64.7px;">43.81MB</div>
<div class="c p" style="left:945.4px;width:64.5px;">61.22MB</div>
<div class="c u" style="left:1073px;width:127px;">Unknown</div>
</div>
<div class="r" style="top:124.17px">
<div class="c" style="left:0px;width:40px;">5</div>
<div class="c n" style="left:40px;width:152px;font-size:13.2px"><span style="position:absolute;left:24.3px">Hong Kong 04</span></div>
<div class="c" style="left:192px;width:93.2px;">Shadowsocks</div>
<div class="c g" style="left:285.2px;width:59.3px;">79ms</div>
<div class="c g" style="left:344.5px;width:75.8px;">217ms</div>
<div class="c o" style="left:420.3px;width:107.7px;">商宽/机房IP</div>
<div class="c" style="left:528px;width:89.3px;">LOW(13)</div>
<div class="c l" style="left:617.3px;width:65.1px;">解锁(HK)</div>
<div class="c l" style="left:682.4px;width:66px;">解锁(HK)</div>
<div class="c l" style="left:748.4px;width:66.2px;">解锁(HK)</div>
<div class="c l" style="left:814.6px;width:66.1px;">解锁(TW)</div>
<div class="c p" style="left:880.7px;width:64.7px;">43.75MB</div>
<div class="c p" style="left:945.4px;width:64.5px;">61.02MB</div>
<div class="c u" style="left:1073px;width:127px;">FullCone</div>
</div>
<div class="r" style="top:144.7px">
<div class="c" style="left:0px;width:40px;">6</div>
<div class="c n" style="left:40px;width:152px;font-size:13.2px"><span style="position:absolute;left:24.3px">Hong Kong 05</span></div>
<div class="c" style="left:192px;width:93.2px;">Shadowsocks</div>
<div class="c g" style="left:285.2px;width:59.3px;">76ms</div>
<div class="c g" style="left:344.5px;width:75.8px;">695ms</div>
<div class="c o" style="left:420.3px;width:107.7px;">商宽/机房IP</div>
<div class="c" style="left:528px;width:89.3px;">LOW(13)</div>
<div class="c l" style="left:617.3px;width:65.1px;">解锁(HK)</div>
<div class="c l" style="left:682.4px;width:66px;">解锁(HK)</div>
<div class="c l" style="left:748.4px;width:66.2px;">解锁(HK)</div>
<div class="c l" style="left:814.6px;width:66.1px;">解锁(TW)</div>
<div class="c p" style="left:880.7px;width:64.7px;">58.54MB</div>
<div class="c p" style="left:945.4px;width:64.5px;">70.70MB</div>
<div class="c u" style="left:1073px;width:127px;">Unknown</div>
</div>
<div class="r" style="top:165.23px">
<div class="c" style="left:0px;width:40px;">7</div>
<div class="c n" style="left:40px;width:152px;font-size:13.2px"><span style="position:absolute;left:24.3px">Hong Kong 06</span></div>
<div class="c" style="left:192px;width:93.2px;">Shadowsocks</div>
<div class="c g" style="left:285.2px;width:59.3px;">144ms</div>
<div class="c g" style="left:344.5px;width:75.8px;">312ms</div>
<div class="c o" style="left:420.3px;width:107.7px;">商宽/机房IP</div>
<div class="c" style="left:528px;width:89.3px;">LOW(13)</div>
<div class="c l" style="left:617.3px;width:65.1px;">解锁(HK)</div>
<div class="c l" style="left:682.4px;width:66px;">解锁(HK)</div>
<div class="c l" style="left:748.4px;width:66.2px;">解锁(HK)</div>
<div class="c l" style="left:814.6px;width:66.1px;">解锁(TW)</div>
<div class="c p" style="left:880.7px;width:64.7px;">56.07MB</div>
<div class="c p" style="left:945.4px;width:64.5px;">68.20MB</div>
<div class="c u" style="left:1073px;width:127px;">FullCone</div>
</div>
<div class="r" style="top:185.76px">
<div class="c" style="left:0px;width:40px;">8</div>
<div class="c n" style="left:40px;width:152px;font-size:13.2px"><span style="position:absolute;left:24.3px">Hong Kong 07</span></div>
<div class="c" style="left:192px;width:93.2px;">Shadowsocks</div>
<div class="c g" style="left:285.2px;width:59.3px;">83ms</div>
<div class="c g" style="left:344.5px;width:75.8px;">263ms</div>
<div class="c o" style="left:420.3px;width:107.7px;">商宽/机房IP</div>
<div class="c" style="left:528px;width:89.3px;">LOW(13)</div>
<div class="c l" style="left:617.3px;width:65.1px;">解锁(HK)</div>
<div class="c l" style="left:682.4px;width:66px;">解锁(HK)</div>
<div class="c l" style="left:748.4px;width:66.2px;">解锁(HK)</div>
<div class="c l" style="left:814.6px;width:66.1px;">解锁(TW)</div>
<div class="c p" style="left:880.7px;width:64.7px;">50.70MB</div>
<div class="c p" style="left:945.4px;width:64.5px;">57.22MB</div>
<div class="c u" style="left:1073px;width:127px;">FullCone</div>
</div>
<div class="r" style="top:206.29px">
<div class="c" style="left:0px;width:40px;">9</div>
<div class="c n" style="left:40px;width:152px;font-size:13.2px"><span style="position:absolute;left:24.3px">Hong Kong 08</span></div>
<div class="c" style="left:192px;width:93.2px;">Shadowsocks</div>
<div class="c g" style="left:285.2px;width:59.3px;">105ms</div>
<div class="c g" style="left:344.5px;width:75.8px;">256ms</div>
<div class="c o" style="left:420.3px;width:107.7px;">商宽/机房IP</div>
<div class="c" style="left:528px;width:89.3px;">LOW(13)</div>
<div class="c l" style="left:617.3px;width:65.1px;">解锁(HK)</div>
<div class="c l" style="left:682.4px;width:66px;">解锁(HK)</div>
<div class="c l" style="left:748.4px;width:66.2px;">解锁(HK)</div>
<div class="c l" style="left:814.6px;width:66.1px;">解锁(TW)</div>
<div class="c p" style="left:880.7px;width:64.7px;">58.09MB</div>
<div class="c p" style="left:945.4px;width:64.5px;">71.53MB</div>
<div class="c u" style="left:1073px;width:127px;">Unknown</div>
</div>
<div class="r" style="top:226.82px">
<div class="c" style="left:0px;width:40px;">10</div>
<div class="c n" style="left:40px;width:152px;font-size:12.85px"><span style="position:absolute;left:24.3px">Taiwan 01</span></div>
<div class="c" style="left:192px;width:93.2px;">Shadowsocks</div>
<div class="c g" style="left:285.2px;width:59.3px;">251ms</div>
<div class="c g" style="left:344.5px;width:75.8px;">466ms</div>
<div class="c o" style="left:420.3px;width:107.7px;">商宽/机房IP</div>
<div class="c" style="left:528px;width:89.3px;">LOW(0)</div>
<div class="c l" style="left:617.3px;width:65.1px;">解锁(TW)</div>
<div class="c l" style="left:682.4px;width:66px;">解锁(TW)</div>
<div class="c l" style="left:748.4px;width:66.2px;">解锁(TW)</div>
<div class="c l" style="left:814.6px;width:66.1px;">解锁(TW)</div>
<div class="c p" style="left:880.7px;width:64.7px;">30.68MB</div>
<div class="c p" style="left:945.4px;width:64.5px;">63.77MB</div>
<div class="c u" style="left:1073px;width:127px;">RestrictedCone</div>
</div>
<div class="r" style="top:247.35px">
<div class="c" style="left:0px;width:40px;">11</div>
<div class="c n" style="left:40px;width:152px;font-size:12.85px"><span style="position:absolute;left:24.3px">Taiwan 02</span></div>
<div class="c" style="left:192px;width:93.2px;">Shadowsocks</div>
<div class="c g" style="left:285.2px;width:59.3px;">86ms</div>
<div class="c g" style="left:344.5px;width:75.8px;">237ms</div>
<div class="c o" style="left:420.3px;width:107.7px;">商宽/机房IP</div>
<div class="c" style="left:528px;width:89.3px;">LOW(0)</div>
<div class="c b" style="left:617.3px;width:65.1px;">未知</div>
<div class="c l" style="left:682.4px;width:66px;">解锁(TW)</div>
<div class="c l" style="left:748.4px;width:66.2px;">解锁(TW)</div>
<div class="c l" style="left:814.6px;width:66.1px;">解锁(TW)</div>
<div class="c p" style="left:880.7px;width:64.7px;">57.12MB</div>
<div class="c p" style="left:945.4px;width:64.5px;">68.62MB</div>
<div class="c u" style="left:1073px;width:127px;">FullCone</div>
</div>
<div class="r" style="top:267.88px">
<div class="c" style="left:0px;width:40px;">12</div>
<div class="c n" style="left:40px;width:152px;font-size:12.85px"><span style="position:absolute;left:24.3px">Taiwan 03</span></div>
<div class="c" style="left:192px;width:93.2px;">Shadowsocks</div>
<div class="c g" style="left:285.2px;width:59.3px;">92ms</div>
<div class="c g" style="left:344.5px;width:75.8px;">624ms</div>
<div class="c o" style="left:420.3px;width:107.7px;">商宽/机房IP</div>
<div class="c" style="left:528px;width:89.3px;">LOW(0)</div>
<div class="c l" style="left:617.3px;width:65.1px;">解锁(TW)</div>
<div class="c l" style="left:682.4px;width:66px;">解锁(TW)</div>
<div class="c l" style="left:748.4px;width:66.2px;">解锁(TW)</div>
<div class="c l" style="left:814.6px;width:66.1px;">解锁(TW)</div>
<div class="c p" style="left:880.7px;width:64.7px;">29.13MB</div>
<div class="c p" style="left:945.4px;width:64.5px;">71.80MB</div>
<div class="c u" style="left:1073px;width:127px;">Unknown</div>
</div>
<div class="r" style="top:288.41px">
<div class="c" style="left:0px;width:40px;">13</div>
<div class="c n" style="left:40px;width:152px;font-size:12.85px"><span style="position:absolute;left:24.3px">Taiwan 04</span></div>
<div class="c" style="left:192px;width:93.2px;">Shadowsocks</div>
<div class="c g" style="left:285.2px;width:59.3px;">91ms</div>
<div class="c g" style="left:344.5px;width:75.8px;">314ms</div>
<div class="c o" style="left:420.3px;width:107.7px;">商宽/机房IP</div>
<div class="c" style="left:528px;width:89.3px;">LOW(0)</div>
<div class="c b" style="left:617.3px;width:65.1px;">未知</div>
<div class="c l" style="left:682.4px;width:66px;">解锁(TW)</div>
<div class="c l" style="left:748.4px;width:66.2px;">解锁(TW)</div>
<div class="c l" style="left:814.6px;width:66.1px;">解锁(TW)</div>
<div class="c p" style="left:880.7px;width:64.7px;">52.35MB</div>
<div class="c p" style="left:945.4px;width:64.5px;">61.20MB</div>
<div class="c u" style="left:1073px;width:127px;">FullCone</div>
</div>
<div class="r" style="top:308.94px">
<div class="c" style="left:0px;width:40px;">14</div>
<div class="c n" style="left:40px;width:152px;font-size:13.1px"><span style="position:absolute;left:24.3px">Singapore 01</span></div>
<div class="c" style="left:192px;width:93.2px;">Shadowsocks</div>
<div class="c g" style="left:285.2px;width:59.3px;">156ms</div>
<div class="c g" style="left:344.5px;width:75.8px;">443ms</div>
<div class="c o" style="left:420.3px;width:107.7px;">商宽/机房IP</div>
<div class="c" style="left:528px;width:89.3px;">MEDIUM(34)</div>
<div class="c l" style="left:617.3px;width:65.1px;">解锁(SG)</div>
<div class="c l" style="left:682.4px;width:66px;">解锁(SG)</div>
<div class="c l" style="left:748.4px;width:66.2px;">解锁(SG)</div>
<div class="c l" style="left:814.6px;width:66.1px;">解锁(SG)</div>
<div class="c p" style="left:880.7px;width:64.7px;">52.89MB</div>
<div class="c p" style="left:945.4px;width:64.5px;">69.52MB</div>
<div class="c u" style="left:1073px;width:127px;">PortRestrictedCone</div>
</div>
<div class="r" style="top:329.47px">
<div class="c" style="left:0px;width:40px;">15</div>
<div class="c n" style="left:40px;width:152px;font-size:13.1px"><span style="position:absolute;left:24.3px">Singapore 02</span></div>
<div class="c" style="left:192px;width:93.2px;">Shadowsocks</div>
<div class="c g" style="left:285.2px;width:59.3px;">146ms</div>
<div class="c g" style="left:344.5px;width:75.8px;">407ms</div>
<div class="c o" style="left:420.3px;width:107.7px;">商宽/机房IP</div>
<div class="c" style="left:528px;width:89.3px;">MEDIUM(34)</div>
<div class="c l" style="left:617.3px;width:65.1px;">解锁(SG)</div>
<div class="c l" style="left:682.4px;width:66px;">解锁(SG)</div>
<div class="c l" style="left:748.4px;width:66.2px;">解锁(SG)</div>
<div class="c l" style="left:814.6px;width:66.1px;">解锁(SG)</div>
<div class="c p" style="left:880.7px;width:64.7px;">44.70MB</div>
<div class="c p" style="left:945.4px;width:64.5px;">67.05MB</div>
<div class="c u" style="left:1073px;width:127px;">PortRestrictedCone</div>
</div>
<div class="r" style="top:350px">
<div class="c" style="left:0px;width:40px;">16</div>
<div class="c n" style="left:40px;width:152px;font-size:13.1px"><span style="position:absolute;left:24.3px">Singapore 03</span></div>
<div class="c" style="left:192px;width:93.2px;">Shadowsocks</div>
<div class="c g" style="left:285.2px;width:59.3px;">154ms</div>
<div class="c g" style="left:344.5px;width:75.8px;">452ms</div>
<div class="c o" style="left:420.3px;width:107.7px;">商宽/机房IP</div>
<div class="c" style="left:528px;width:89.3px;">MEDIUM(34)</div>
<div class="c l" style="left:617.3px;width:65.1px;">解锁(SG)</div>
<div class="c l" style="left:682.4px;width:66px;">解锁(SG)</div>
<div class="c l" style="left:748.4px;width:66.2px;">解锁(SG)</div>
<div class="c l" style="left:814.6px;width:66.1px;">解锁(SG)</div>
<div class="c p" style="left:880.7px;width:64.7px;">52.01MB</div>
<div class="c p" style="left:945.4px;width:64.5px;">67.45MB</div>
<div class="c u" style="left:1073px;width:127px;">FullCone</div>
</div>
<div class="r" style="top:370.53px">
<div class="c" style="left:0px;width:40px;">17</div>
<div class="c n" style="left:40px;width:152px;font-size:13.1px"><span style="position:absolute;left:24.3px">Singapore 04</span></div>
<div class="c" style="left:192px;width:93.2px;">Shadowsocks</div>
<div class="c g" style="left:285.2px;width:59.3px;">154ms</div>
<div class="c g" style="left:344.5px;width:75.8px;">459ms</div>
<div class="c o" style="left:420.3px;width:107.7px;">商宽/机房IP</div>
<div class="c" style="left:528px;width:89.3px;">MEDIUM(34)</div>
<div class="c l" style="left:617.3px;width:65.1px;">解锁(SG)</div>
<div class="c l" style="left:682.4px;width:66px;">解锁(SG)</div>
<div class="c l" style="left:748.4px;width:66.2px;">解锁(SG)</div>
<div class="c l" style="left:814.6px;width:66.1px;">解锁(SG)</div>
<div class="c p" style="left:880.7px;width:64.7px;">53.44MB</div>
<div class="c p" style="left:945.4px;width:64.5px;">73.77MB</div>
<div class="c u" style="left:1073px;width:127px;">PortRestrictedCone</div>
</div>
<div class="r" style="top:391.06px">
<div class="c" style="left:0px;width:40px;">18</div>
<div class="c n" style="left:40px;width:152px;font-size:13.1px"><span style="position:absolute;left:24.3px">Singapore 05</span></div>
<div class="c" style="left:192px;width:93.2px;">Shadowsocks</div>
<div class="c g" style="left:285.2px;width:59.3px;">172ms</div>
<div class="c g" style="left:344.5px;width:75.8px;">466ms</div>
<div class="c o" style="left:420.3px;width:107.7px;">商宽/机房IP</div>
<div class="c" style="left:528px;width:89.3px;">MEDIUM(34)</div>
<div class="c l" style="left:617.3px;width:65.1px;">解锁(SG)</div>
<div class="c l" style="left:682.4px;width:66px;">解锁(SG)</div>
<div class="c l" style="left:748.4px;width:66.2px;">解锁(SG)</div>
<div class="c l" style="left:814.6px;width:66.1px;">解锁(SG)</div>
<div class="c p" style="left:880.7px;width:64.7px;">50.50MB</div>
<div class="c p" style="left:945.4px;width:64.5px;">70.30MB</div>
<div class="c u" style="left:1073px;width:127px;">Unknown</div>
</div>
<div class="r" style="top:411.59px">
<div class="c" style="left:0px;width:40px;">19</div>
<div class="c n" style="left:40px;width:152px;font-size:13.1px"><span style="position:absolute;left:24.3px">Singapore 06</span></div>
<div class="c" style="left:192px;width:93.2px;">Shadowsocks</div>
<div class="c g" style="left:285.2px;width:59.3px;">151ms</div>
<div class="c g" style="left:344.5px;width:75.8px;">433ms</div>
<div class="c o" style="left:420.3px;width:107.7px;">商宽/机房IP</div>
<div class="c" style="left:528px;width:89.3px;">MEDIUM(34)</div>
<div class="c l" style="left:617.3px;width:65.1px;">解锁(SG)</div>
<div class="c l" style="left:682.4px;width:66px;">解锁(SG)</div>
<div class="c l" style="left:748.4px;width:66.2px;">解锁(SG)</div>
<div class="c l" style="left:814.6px;width:66.1px;">解锁(SG)</div>
<div class="c p" style="left:880.7px;width:64.7px;">49.73MB</div>
<div class="c p" style="left:945.4px;width:64.5px;">64.98MB</div>
<div class="c u" style="left:1073px;width:127px;">PortRestrictedCone</div>
</div>
<div class="r" style="top:432.12px">
<div class="c" style="left:0px;width:40px;">20</div>
<div class="c n" style="left:40px;width:152px;font-size:12.65px"><span style="position:absolute;left:24.3px">Japan 01</span></div>
<div class="c" style="left:192px;width:93.2px;">Shadowsocks</div>
<div class="c g" style="left:285.2px;width:59.3px;">78ms</div>
<div class="c g" style="left:344.5px;width:75.8px;">251ms</div>
<div class="c o" style="left:420.3px;width:107.7px;">商宽/机房IP</div>
<div class="c" style="left:528px;width:89.3px;">N/A</div>
<div class="c l" style="left:617.3px;width:65.1px;">解锁(JP)</div>
<div class="c l" style="left:682.4px;width:66px;">解锁(JP)</div>
<div class="c l" style="left:748.4px;width:66.2px;">解锁(JP)</div>
<div class="c l" style="left:814.6px;width:66.1px;">解锁(JP)</div>
<div class="c p" style="left:880.7px;width:64.7px;">28.01MB</div>
<div class="c p" style="left:945.4px;width:64.5px;">62.66MB</div>
<div class="c u" style="left:1073px;width:127px;">FullCone</div>
</div>
<div class="r" style="top:452.65px">
<div class="c" style="left:0px;width:40px;">21</div>
<div class="c n" style="left:40px;width:152px;font-size:12.65px"><span style="position:absolute;left:24.3px">Japan 02</span></div>
<div class="c" style="left:192px;width:93.2px;">Shadowsocks</div>
<div class="c g" style="left:285.2px;width:59.3px;">104ms</div>
<div class="c o" style="left:344.5px;width:75.8px;">3044ms</div>
<div class="c o" style="left:420.3px;width:107.7px;">商宽/机房IP</div>
<div class="c" style="left:528px;width:89.3px;">LOW(0)</div>
<div class="c l" style="left:617.3px;width:65.1px;">解锁(JP)</div>
<div class="c l" style="left:682.4px;width:66px;">解锁(JP)</div>
<div class="c l" style="left:748.4px;width:66.2px;">解锁(JP)</div>
<div class="c l" style="left:814.6px;width:66.1px;">解锁(JP)</div>
<div class="c p" style="left:880.7px;width:64.7px;">42.18MB</div>
<div class="c p" style="left:945.4px;width:64.5px;">66.77MB</div>
<div class="c u" style="left:1073px;width:127px;">FullCone</div>
</div>
<div class="r" style="top:473.18px">
<div class="c" style="left:0px;width:40px;">22</div>
<div class="c n" style="left:40px;width:152px;font-size:12.65px"><span style="position:absolute;left:24.3px">Japan 03</span></div>
<div class="c" style="left:192px;width:93.2px;">Shadowsocks</div>
<div class="c g" style="left:285.2px;width:59.3px;">95ms</div>
<div class="c g" style="left:344.5px;width:75.8px;">363ms</div>
<div class="c o" style="left:420.3px;width:107.7px;">商宽/机房IP</div>
<div class="c" style="left:528px;width:89.3px;">LOW(0)</div>
<div class="c l" style="left:617.3px;width:65.1px;">解锁(JP)</div>
<div class="c l" style="left:682.4px;width:66px;">解锁(JP)</div>
<div class="c l" style="left:748.4px;width:66.2px;">解锁(JP)</div>
<div class="c l" style="left:814.6px;width:66.1px;">解锁(JP)</div>
<div class="c p" style="left:880.7px;width:64.7px;">32.19MB</div>
<div class="c p" style="left:945.4px;width:64.5px;">61.28MB</div>
<div class="c u" style="left:1073px;width:127px;">FullCone</div>
</div>
<div class="r" style="top:493.71px">
<div class="c" style="left:0px;width:40px;">23</div>
<div class="c n" style="left:40px;width:152px;font-size:12.65px"><span style="position:absolute;left:24.3px">Japan 04</span></div>
<div class="c" style="left:192px;width:93.2px;">Shadowsocks</div>
<div class="c g" style="left:285.2px;width:59.3px;">92ms</div>
<div class="c g" style="left:344.5px;width:75.8px;">263ms</div>
<div class="c o" style="left:420.3px;width:107.7px;">商宽/机房IP</div>
<div class="c" style="left:528px;width:89.3px;">LOW(0)</div>
<div class="c l" style="left:617.3px;width:65.1px;">解锁(JP)</div>
<div class="c l" style="left:682.4px;width:66px;">解锁(JP)</div>
<div class="c l" style="left:748.4px;width:66.2px;">解锁(JP)</div>
<div class="c l" style="left:814.6px;width:66.1px;">解锁(JP)</div>
<div class="c p" style="left:880.7px;width:64.7px;">34.21MB</div>
<div class="c p" style="left:945.4px;width:64.5px;">58.09MB</div>
<div class="c u" style="left:1073px;width:127px;">FullCone</div>
</div>
<div class="r" style="top:514.24px">
<div class="c" style="left:0px;width:40px;">24</div>
<div class="c n" style="left:40px;width:152px;font-size:12.65px"><span style="position:absolute;left:24.3px">Japan 05</span></div>
<div class="c" style="left:192px;width:93.2px;">Shadowsocks</div>
<div class="c g" style="left:285.2px;width:59.3px;">79ms</div>
<div class="c g" style="left:344.5px;width:75.8px;">238ms</div>
<div class="c o" style="left:420.3px;width:107.7px;">商宽/机房IP</div>
<div class="c" style="left:528px;width:89.3px;">LOW(0)</div>
<div class="c l" style="left:617.3px;width:65.1px;">解锁(JP)</div>
<div class="c l" style="left:682.4px;width:66px;">解锁(JP)</div>
<div class="c l" style="left:748.4px;width:66.2px;">解锁(JP)</div>
<div class="c l" style="left:814.6px;width:66.1px;">解锁(JP)</div>
<div class="c p" style="left:880.7px;width:64.7px;">57.64MB</div>
<div class="c p" style="left:945.4px;width:64.5px;">72.28MB</div>
<div class="c u" style="left:1073px;width:127px;">FullCone</div>
</div>
<div class="r" style="top:534.77px">
<div class="c" style="left:0px;width:40px;">25</div>
<div class="c n" style="left:40px;width:152px;font-size:12.65px"><span style="position:absolute;left:24.3px">Japan 06</span></div>
<div class="c" style="left:192px;width:93.2px;">Shadowsocks</div>
<div class="c g" style="left:285.2px;width:59.3px;">94ms</div>
<div class="c g" style="left:344.5px;width:75.8px;">274ms</div>
<div class="c o" style="left:420.3px;width:107.7px;">商宽/机房IP</div>
<div class="c" style="left:528px;width:89.3px;">LOW(0)</div>
<div class="c l" style="left:617.3px;width:65.1px;">解锁(JP)</div>
<div class="c l" style="left:682.4px;width:66px;">解锁(JP)</div>
<div class="c l" style="left:748.4px;width:66.2px;">解锁(JP)</div>
<div class="c l" style="left:814.6px;width:66.1px;">解锁(JP)</div>
<div class="c p" style="left:880.7px;width:64.7px;">62.63MB</div>
<div class="c p" style="left:945.4px;width:64.5px;">79.95MB</div>
<div class="c u" style="left:1073px;width:127px;">FullCone</div>
</div>
<div class="r" style="top:555.3px">
<div class="c" style="left:0px;width:40px;">26</div>
<div class="c n" style="left:40px;width:152px;font-size:12.8px"><span style="position:absolute;left:24.3px">USA 01</span></div>
<div class="c" style="left:192px;width:93.2px;">Shadowsocks</div>
<div class="c g" style="left:285.2px;width:59.3px;">213ms</div>
<div class="c g" style="left:344.5px;width:75.8px;">614ms</div>
<div class="c o" style="left:420.3px;width:107.7px;">商宽/机房IP</div>
<div class="c" style="left:528px;width:89.3px;">LOW(0)</div>
<div class="c l" style="left:617.3px;width:65.1px;">解锁(US)</div>
<div class="c l" style="left:682.4px;width:66px;">解锁(US)</div>
<div class="c l" style="left:748.4px;width:66.2px;">解锁(US)</div>
<div class="c l" style="left:814.6px;width:66.1px;">解锁(US)</div>
<div class="c p" style="left:880.7px;width:64.7px;">40.67MB</div>
<div class="c p" style="left:945.4px;width:64.5px;">66.75MB</div>
<div class="c u" style="left:1073px;width:127px;">FullCone</div>
</div>
<div class="r" style="top:575.83px">
<div class="c" style="left:0px;width:40px;">27</div>
<div class="c n" style="left:40px;width:152px;font-size:12.8px"><span style="position:absolute;left:24.3px">USA 02</span></div>
<div class="c" style="left:192px;width:93.2px;">Shadowsocks</div>
<div class="c g" style="left:285.2px;width:59.3px;">196ms</div>
<div class="c g" style="left:344.5px;width:75.8px;">557ms</div>
<div class="c o" style="left:420.3px;width:107.7px;">商宽/机房IP</div>
<div class="c" style="left:528px;width:89.3px;">LOW(0)</div>
<div class="c l" style="left:617.3px;width:65.1px;">解锁(US)</div>
<div class="c l" style="left:682.4px;width:66px;">解锁(US)</div>
<div class="c l" style="left:748.4px;width:66.2px;">解锁(US)</div>
<div class="c l" style="left:814.6px;width:66.1px;">解锁(US)</div>
<div class="c p" style="left:880.7px;width:64.7px;">26.70MB</div>
<div class="c p" style="left:945.4px;width:64.5px;">63.83MB</div>
<div class="c u" style="left:1073px;width:127px;">FullCone</div>
</div>
<div class="r" style="top:596.36px">
<div class="c" style="left:0px;width:40px;">28</div>
<div class="c n" style="left:40px;width:152px;font-size:12.8px"><span style="position:absolute;left:24.3px">USA 03</span></div>
<div class="c" style="left:192px;width:93.2px;">Shadowsocks</div>
<div class="c g" style="left:285.2px;width:59.3px;">203ms</div>
<div class="c g" style="left:344.5px;width:75.8px;">578ms</div>
<div class="c o" style="left:420.3px;width:107.7px;">商宽/机房IP</div>
<div class="c" style="left:528px;width:89.3px;">LOW(0)</div>
<div class="c l" style="left:617.3px;width:65.1px;">解锁(US)</div>
<div class="c l" style="left:682.4px;width:66px;">解锁(US)</div>
<div class="c l" style="left:748.4px;width:66.2px;">解锁(US)</div>
<div class="c l" style="left:814.6px;width:66.1px;">解锁(US)</div>
<div class="c p" style="left:880.7px;width:64.7px;">48.48MB</div>
<div class="c p" style="left:945.4px;width:64.5px;">64.94MB</div>
<div class="c u" style="left:1073px;width:127px;">FullCone</div>
</div>
<div class="r" style="top:616.89px">
<div class="c" style="left:0px;width:40px;">29</div>
<div class="c n" style="left:40px;width:152px;font-size:12.8px"><span style="position:absolute;left:24.3px">USA 04</span></div>
<div class="c" style="left:192px;width:93.2px;">Shadowsocks</div>
<div class="c g" style="left:285.2px;width:59.3px;">201ms</div>
<div class="c g" style="left:344.5px;width:75.8px;">568ms</div>
<div class="c o" style="left:420.3px;width:107.7px;">商宽/机房IP</div>
<div class="c" style="left:528px;width:89.3px;">LOW(0)</div>
<div class="c l" style="left:617.3px;width:65.1px;">解锁(US)</div>
<div class="c l" style="left:682.4px;width:66px;">解锁(US)</div>
<div class="c l" style="left:748.4px;width:66.2px;">解锁(US)</div>
<div class="c l" style="left:814.6px;width:66.1px;">解锁(US)</div>
<div class="c p" style="left:880.7px;width:64.7px;">49.35MB</div>
<div class="c p" style="left:945.4px;width:64.5px;">62.47MB</div>
<div class="c u" style="left:1073px;width:127px;">FullCone</div>
</div>
<div class="r" style="top:637.42px">
<div class="c" style="left:0px;width:40px;">30</div>
<div class="c n" style="left:40px;width:152px;font-size:12.8px"><span style="position:absolute;left:24.3px">USA 05</span></div>
<div class="c" style="left:192px;width:93.2px;">Shadowsocks</div>
<div class="c g" style="left:285.2px;width:59.3px;">191ms</div>
<div class="c g" style="left:344.5px;width:75.8px;">643ms</div>
<div class="c o" style="left:420.3px;width:107.7px;">商宽/机房IP</div>
<div class="c" style="left:528px;width:89.3px;">LOW(0)</div>
<div class="c l" style="left:617.3px;width:65.1px;">解锁(US)</div>
<div class="c l" style="left:682.4px;width:66px;">解锁(US)</div>
<div class="c l" style="left:748.4px;width:66.2px;">解锁(US)</div>
<div class="c l" style="left:814.6px;width:66.1px;">解锁(US)</div>
<div class="c p" style="left:880.7px;width:64.7px;">47.54MB</div>
<div class="c p" style="left:945.4px;width:64.5px;">59.06MB</div>
<div class="c u" style="left:1073px;width:127px;">FullCone</div>
</div>
<div class="r" style="top:657.95px">
<div class="c" style="left:0px;width:40px;">31</div>
<div class="c n" style="left:40px;width:152px;font-size:12.8px"><span style="position:absolute;left:24.3px">USA 06</span></div>
<div class="c" style="left:192px;width:93.2px;">Shadowsocks</div>
<div class="c g" style="left:285.2px;width:59.3px;">196ms</div>
<div class="c g" style="left:344.5px;width:75.8px;">567ms</div>
<div class="c o" style="left:420.3px;width:107.7px;">商宽/机房IP</div>
<div class="c" style="left:528px;width:89.3px;">LOW(0)</div>
<div class="c l" style="left:617.3px;width:65.1px;">解锁(US)</div>
<div class="c l" style="left:682.4px;width:66px;">解锁(US)</div>
<div class="c l" style="left:748.4px;width:66.2px;">解锁(US)</div>
<div class="c l" style="left:814.6px;width:66.1px;">解锁(US)</div>
<div class="c p" style="left:880.7px;width:64.7px;">49.24MB</div>
<div class="c p" style="left:945.4px;width:64.5px;">58.73MB</div>
<div class="c u" style="left:1073px;width:127px;">FullCone</div>
</div>
<div class="r" style="top:678.48px">
<div class="c" style="left:0px;width:40px;">32</div>
<div class="c n" style="left:40px;width:152px;font-size:12.45px"><span style="position:absolute;left:24.3px">UK 01</span></div>
<div class="c" style="left:192px;width:93.2px;">Shadowsocks</div>
<div class="c g" style="left:285.2px;width:59.3px;">303ms</div>
<div class="c o" style="left:344.5px;width:75.8px;">892ms</div>
<div class="c o" style="left:420.3px;width:107.7px;">商宽/机房IP</div>
<div class="c" style="left:528px;width:89.3px;">MEDIUM(27)</div>
<div class="c l" style="left:617.3px;width:65.1px;">解锁(GB)</div>
<div class="c e" style="left:682.4px;width:66px;">失败</div>
<div class="c l" style="left:748.4px;width:66.2px;">解锁(GB)</div>
<div class="c l" style="left:814.6px;width:66.1px;">解锁(GB)</div>
<div class="c p" style="left:880.7px;width:64.7px;">22.03MB</div>
<div class="c p" style="left:945.4px;width:64.5px;">36.41MB</div>
<div class="c u" style="left:1073px;width:127px;">FullCone</div>
</div>
<div class="r" style="top:699.01px">
<div class="c" style="left:0px;width:40px;">33</div>
<div class="c n" style="left:40px;width:152px;font-size:12.45px"><span style="position:absolute;left:24.3px">UK 02</span></div>
<div class="c" style="left:192px;width:93.2px;">Shadowsocks</div>
<div class="c g" style="left:285.2px;width:59.3px;">332ms</div>
<div class="c o" style="left:344.5px;width:75.8px;">983ms</div>
<div class="c o" style="left:420.3px;width:107.7px;">商宽/机房IP</div>
<div class="c" style="left:528px;width:89.3px;">MEDIUM(27)</div>
<div class="c l" style="left:617.3px;width:65.1px;">解锁(GB)</div>
<div class="c l" style="left:682.4px;width:66px;">解锁(GB)</div>
<div class="c l" style="left:748.4px;width:66.2px;">解锁(GB)</div>
<div class="c l" style="left:814.6px;width:66.1px;">解锁(GB)</div>
<div class="c p" style="left:880.7px;width:64.7px;">26.69MB</div>
<div class="c p" style="left:945.4px;width:64.5px;">50.69MB</div>
<div class="c u" style="left:1073px;width:127px;">FullCone</div>
</div>
<div class="r" style="top:719.54px">
<div class="c" style="left:0px;width:40px;">34</div>
<div class="c n" style="left:40px;width:152px;font-size:12.0px"><span style="position:absolute;left:24.3px">KR 01</span></div>
<div class="c" style="left:192px;width:93.2px;">Shadowsocks</div>
<div class="c g" style="left:285.2px;width:59.3px;">136ms</div>
<div class="c g" style="left:344.5px;width:75.8px;">417ms</div>
<div class="c o" style="left:420.3px;width:107.7px;">商宽/机房IP|VPN</div>
<div class="c" style="left:528px;width:89.3px;">LOW(17)</div>
<div class="c l" style="left:617.3px;width:65.1px;">解锁(KR)</div>
<div class="c e" style="left:682.4px;width:66px;">失败</div>
<div class="c l" style="left:748.4px;width:66.2px;">解锁(KR)</div>
<div class="c l" style="left:814.6px;width:66.1px;">解锁(KR)</div>
<div class="c p" style="left:880.7px;width:64.7px;">49.91MB</div>
<div class="c p" style="left:945.4px;width:64.5px;">79.44MB</div>
<div class="c u" style="left:1073px;width:127px;">PortRestrictedCone</div>
</div>
<div class="r" style="top:740.07px">
<div class="c" style="left:0px;width:40px;">35</div>
<div class="c n" style="left:40px;width:152px;font-size:12.0px"><span style="position:absolute;left:24.3px">KR 02</span></div>
<div class="c" style="left:192px;width:93.2px;">Shadowsocks</div>
<div class="c g" style="left:285.2px;width:59.3px;">155ms</div>
<div class="c g" style="left:344.5px;width:75.8px;">501ms</div>
<div class="c o" style="left:420.3px;width:107.7px;">商宽/机房IP</div>
<div class="c" style="left:528px;width:89.3px;">LOW(0)</div>
<div class="c l" style="left:617.3px;width:65.1px;">解锁(KR)</div>
<div class="c e" style="left:682.4px;width:66px;">失败</div>
<div class="c l" style="left:748.4px;width:66.2px;">解锁(KR)</div>
<div class="c l" style="left:814.6px;width:66.1px;">解锁(KR)</div>
<div class="c p" style="left:880.7px;width:64.7px;">56.27MB</div>
<div class="c p" style="left:945.4px;width:64.5px;">67.06MB</div>
<div class="c u" style="left:1073px;width:127px;">FullCone</div>
</div>
<div class="r ft" style="top:760.6px"><span style="position:absolute;left:25px;font-size:12.05px">已核实 TLS 证书。TLS RTT 为单次数据交换延迟， HTTPS Ping 为单次请求体感延迟。</span></div>
<div class="r ft" style="top:781.13px">主端=4.3.3 (697) 喵速=4.3.1 (东莞电信@1Gbps), 线程=1 概要=35/35 排序=订阅原序 过滤器=</div>
<div class="r ft" style="top:801.66px">测试时间：2024-10-16 11:52:55 (CST)，本测试为试验性结果，仅供参考。</div>
</div>
<svg class="bd" style="left:140px;top:180px;width:60px;height:125px" viewBox="0 0 60 125">
<g opacity=".95">
<path d="M12 4.6l3.3 -1 3.7 15.2 -3.2 1z" fill="#fdfdfb" stroke="#8a8070" stroke-width=".7"/>
<path d="M10.6 24.4q13 4.4 25.8 -3l-1 26.8q-8.6 5.6 -18.2 2.6z" fill="#f4b987" stroke="#9a7048" stroke-width=".6"/>
<path d="M11.4 27.6q12.6 4.2 24.8 -2.9l-.1 3.4q-12.2 6.6 -23.8 2.9z" fill="#fbf3ea" opacity=".9"/>
<path d="M12.4 32.2q12 3.8 23.7 -2.8" fill="none" stroke="#b87c52" stroke-width=".6"/>
<path d="M13.6 37.4q5 1.4 9 .8" fill="none" stroke="#d8925e" stroke-width=".6"/>
<ellipse cx="22.9" cy="21.6" rx="14.3" ry="4.5" transform="rotate(-8 22.9 21.6)" fill="#e9e3bc" stroke="#8a7a58" stroke-width=".7"/>
<ellipse cx="24.5" cy="20.6" rx="9.5" ry="2.3" transform="rotate(-8 24.5 20.6)" fill="#dfe0a8" opacity=".8"/>
<g fill="#3a2014"><circle cx="18.3" cy="42.3" r=".95"/><circle cx="20.6" cy="45.2" r=".95"/><circle cx="22.8" cy="43.8" r=".95"/><circle cx="24" cy="47.2" r=".95"/><circle cx="26.3" cy="44.3" r=".95"/><circle cx="27" cy="48.6" r=".95"/><circle cx="29.5" cy="45.6" r=".95"/><circle cx="32" cy="47" r=".95"/><circle cx="32.5" cy="41.2" r=".95"/><circle cx="19.8" cy="49" r=".95"/></g>
</g>
<g font-family="'Liberation Sans','Noto Sans CJK SC',sans-serif" font-weight="900" font-size="21" fill="#f7c48e" opacity=".82"><text x="-.5" y="83.5">茶</text><text x="29.5" y="83.5">波</text><text x="-1.5" y="118.5">博</text><text x="29.5" y="118.5">客</text></g>
</svg>
<div class="bd" style="left:0;top:0;width:1200px;height:822px;box-sizing:border-box;border:1px solid #222;box-shadow:inset 0 0 0 1px rgba(255,255,255,.45)"></div>
</div></body></html>
